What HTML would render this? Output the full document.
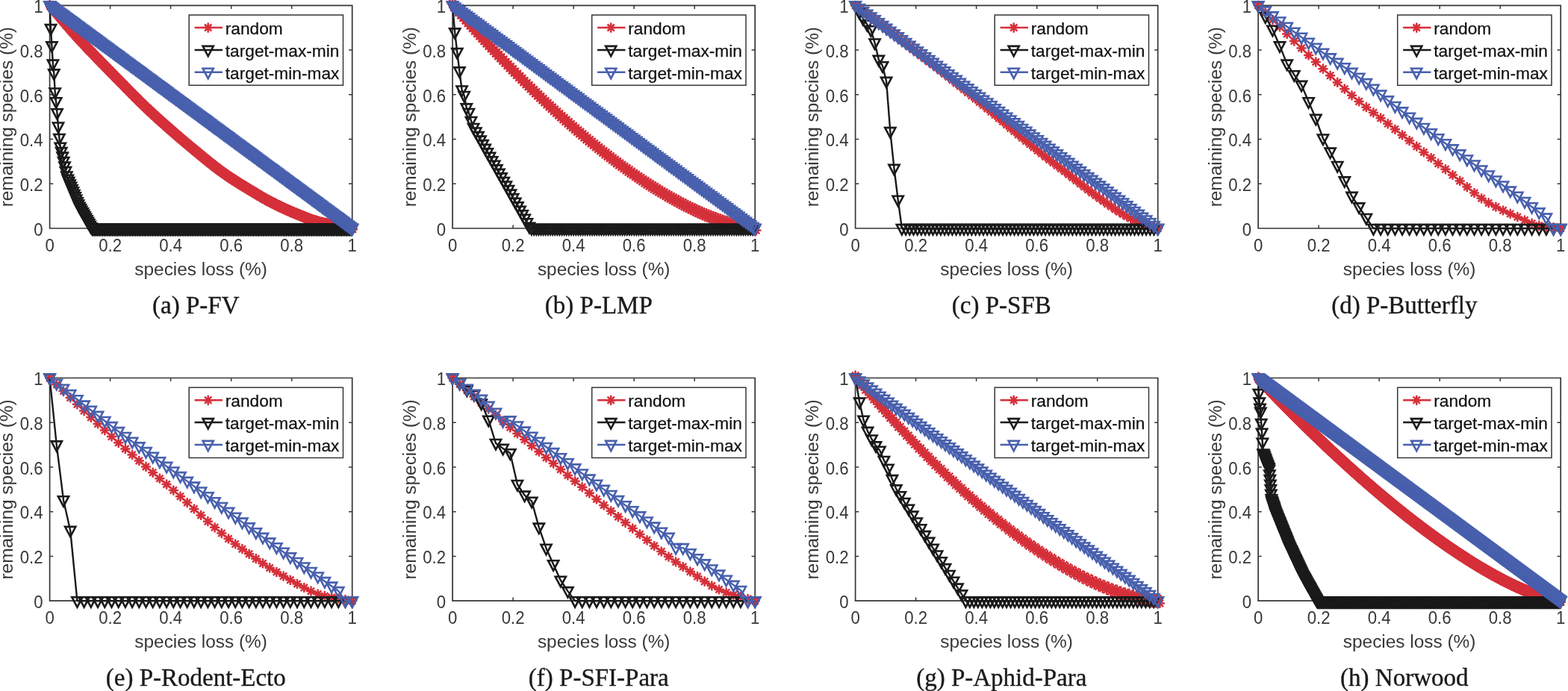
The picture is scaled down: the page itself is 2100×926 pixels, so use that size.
<!DOCTYPE html>
<html><head><meta charset="utf-8"><title>Species loss figures</title>
<style>
html,body{margin:0;padding:0;background:#fff;}
body{width:2100px;height:926px;overflow:hidden;}
svg{display:block;filter:blur(0.45px);}
.tk{font-family:"Liberation Sans",Arial,sans-serif;font-size:22.2px;fill:#383838;}
.lb{font-family:"Liberation Sans",Arial,sans-serif;font-size:24.4px;fill:#383838;}
.lg{font-family:"Liberation Sans",Arial,sans-serif;font-size:22.7px;fill:#111;stroke:#111;stroke-width:0.25px;}
.cp{font-family:"Liberation Serif","Times New Roman",serif;font-size:33px;fill:#1a1a1a;stroke:#1a1a1a;stroke-width:0.35px;}
</style></head><body>
<svg width="2100" height="926" viewBox="0 0 2100 926">
<defs>
<path id="tv" d="M-7.1 -5H7.1L0 8.4Z"/>
<path id="st" d="M0 -6.6V6.6M-6.6 0H6.6M-4.6 -4.6L4.6 4.6M-4.6 4.6L4.6 -4.6"/>
<marker id="mR" markerUnits="userSpaceOnUse" markerWidth="20" markerHeight="20" refX="0" refY="0" viewBox="-10 -10 20 20" overflow="visible"><use href="#st" fill="none" stroke="#d5303a" stroke-width="2.5"/></marker>
<marker id="mK" markerUnits="userSpaceOnUse" markerWidth="24" markerHeight="24" refX="0" refY="0" viewBox="-12 -12 24 24" overflow="visible"><use href="#tv" fill="none" stroke="#1a1a1a" stroke-width="2.6" stroke-linejoin="miter"/></marker>
<marker id="mB" markerUnits="userSpaceOnUse" markerWidth="24" markerHeight="24" refX="0" refY="0" viewBox="-12 -12 24 24" overflow="visible"><use href="#tv" fill="none" stroke="#4860ad" stroke-width="2.6" stroke-linejoin="miter"/></marker>
</defs>
<rect width="2100" height="926" fill="#fff"/>
<g>
<path d="M66.6 7.3H471.7V306H66.6Z" fill="none" stroke="#363636" stroke-width="1.7"/>
<path d="M147.6 306v-4.6M147.6 7.3v4.6M66.6 246.3h4.6M471.7 246.3h-4.6M228.6 306v-4.6M228.6 7.3v4.6M66.6 186.5h4.6M471.7 186.5h-4.6M309.7 306v-4.6M309.7 7.3v4.6M66.6 126.8h4.6M471.7 126.8h-4.6M390.7 306v-4.6M390.7 7.3v4.6M66.6 67h4.6M471.7 67h-4.6" fill="none" stroke="#363636" stroke-width="1.5"/>
<text class="tk" transform="translate(66.6 337) scale(1 1.05)" text-anchor="middle">0</text>
<text class="tk" transform="translate(57.5 315.7) scale(1 1.05)" text-anchor="end">0</text>
<text class="tk" transform="translate(147.6 337) scale(1 1.05)" text-anchor="middle">0.2</text>
<text class="tk" transform="translate(57.5 256) scale(1 1.05)" text-anchor="end">0.2</text>
<text class="tk" transform="translate(228.6 337) scale(1 1.05)" text-anchor="middle">0.4</text>
<text class="tk" transform="translate(57.5 196.2) scale(1 1.05)" text-anchor="end">0.4</text>
<text class="tk" transform="translate(309.7 337) scale(1 1.05)" text-anchor="middle">0.6</text>
<text class="tk" transform="translate(57.5 136.5) scale(1 1.05)" text-anchor="end">0.6</text>
<text class="tk" transform="translate(390.7 337) scale(1 1.05)" text-anchor="middle">0.8</text>
<text class="tk" transform="translate(57.5 76.7) scale(1 1.05)" text-anchor="end">0.8</text>
<text class="tk" transform="translate(471.7 337) scale(1 1.05)" text-anchor="middle">1</text>
<text class="tk" transform="translate(57.5 17) scale(1 1.05)" text-anchor="end">1</text>
<text class="lb" x="269.1" y="368.6" text-anchor="middle">species loss (%)</text>
<text class="lb" transform="translate(17.4 156.7) rotate(-90)" text-anchor="middle">remaining species (%)</text>
<g id="r0"><polyline points="66.6,7.3 68,9 69.4,10.6 70.9,12.3 72.3,14 73.7,15.6 75.1,17.3 76.5,19 78,20.7 79.4,22.4 80.8,24.1 82.2,25.7 83.7,27.4 85.1,29.1 86.5,30.8 87.9,32.4 89.3,34.1 90.8,35.7 92.2,37.4 93.6,39 95,40.6 96.4,42.2 97.9,43.8 99.3,45.4 100.7,47 102.1,48.6 103.6,50.1 105,51.7 106.4,53.2 107.8,54.7 109.2,56.3 110.7,57.8 112.1,59.3 113.5,60.8 114.9,62.4 116.3,63.9 117.8,65.4 119.2,66.9 120.6,68.3 122,69.8 123.5,71.3 124.9,72.8 126.3,74.3 127.7,75.8 129.1,77.2 130.6,78.7 132,80.2 133.4,81.6 134.8,83.1 136.2,84.5 137.7,86 139.1,87.4 140.5,88.9 141.9,90.3 143.4,91.8 144.8,93.2 146.2,94.7 147.6,96.1 149,97.6 150.5,99 151.9,100.5 153.3,101.9 154.7,103.4 156.1,104.8 157.6,106.2 159,107.7 160.4,109.1 161.8,110.6 163.3,112 164.7,113.5 166.1,114.9 167.5,116.4 168.9,117.9 170.4,119.3 171.8,120.8 173.2,122.2 174.6,123.6 176,125.1 177.5,126.5 178.9,128 180.3,129.4 181.7,130.8 183.2,132.2 184.6,133.6 186,135.1 187.4,136.5 188.8,137.8 190.3,139.2 191.7,140.6 193.1,142 194.5,143.3 195.9,144.7 197.4,146 198.8,147.4 200.2,148.7 201.6,150 203.1,151.3 204.5,152.7 205.9,154 207.3,155.3 208.7,156.6 210.2,157.9 211.6,159.2 213,160.4 214.4,161.7 215.8,163 217.3,164.3 218.7,165.5 220.1,166.8 221.5,168.1 223,169.3 224.4,170.6 225.8,171.8 227.2,173.1 228.6,174.3 230.1,175.6 231.5,176.8 232.9,178 234.3,179.3 235.7,180.5 237.2,181.7 238.6,182.9 240,184.2 241.4,185.4 242.9,186.6 244.3,187.8 245.7,189 247.1,190.2 248.5,191.4 250,192.6 251.4,193.8 252.8,195 254.2,196.2 255.6,197.3 257.1,198.5 258.5,199.7 259.9,200.9 261.3,202.1 262.8,203.2 264.2,204.4 265.6,205.6 267,206.8 268.4,208 269.9,209.1 271.3,210.3 272.7,211.5 274.1,212.6 275.5,213.8 277,214.9 278.4,216.1 279.8,217.2 281.2,218.4 282.7,219.5 284.1,220.6 285.5,221.7 286.9,222.9 288.3,224 289.8,225 291.2,226.1 292.6,227.2 294,228.2 295.4,229.3 296.9,230.3 298.3,231.3 299.7,232.3 301.1,233.3 302.6,234.3 304,235.3 305.4,236.2 306.8,237.2 308.2,238.1 309.7,239.1 311.1,240 312.5,240.9 313.9,241.9 315.3,242.8 316.8,243.7 318.2,244.6 319.6,245.5 321,246.4 322.5,247.2 323.9,248.1 325.3,249 326.7,249.9 328.1,250.7 329.6,251.6 331,252.5 332.4,253.3 333.8,254.2 335.2,255 336.7,255.9 338.1,256.7 339.5,257.6 340.9,258.4 342.4,259.3 343.8,260.2 345.2,261 346.6,261.9 348,262.7 349.5,263.5 350.9,264.4 352.3,265.2 353.7,266 355.1,266.8 356.6,267.6 358,268.4 359.4,269.1 360.8,269.9 362.3,270.6 363.7,271.3 365.1,272.1 366.5,272.8 367.9,273.5 369.4,274.2 370.8,274.9 372.2,275.6 373.6,276.3 375,277 376.5,277.7 377.9,278.3 379.3,279 380.7,279.7 382.2,280.3 383.6,280.9 385,281.6 386.4,282.2 387.8,282.8 389.3,283.5 390.7,284.1 392.1,284.7 393.5,285.2 394.9,285.8 396.4,286.4 397.8,287 399.2,287.6 400.6,288.2 402.1,288.7 403.5,289.3 404.9,289.9 406.3,290.5 407.7,291 409.2,291.6 410.6,292.1 412,292.7 413.4,293.2 414.8,293.8 416.3,294.3 417.7,294.8 419.1,295.3 420.5,295.8 422,296.2 423.4,296.7 424.8,297.1 426.2,297.5 427.6,297.9 429.1,298.3 430.5,298.7 431.9,299 433.3,299.3 434.7,299.6 436.2,299.9 437.6,300.2 439,300.5 440.4,300.8 441.9,301.1 443.3,301.3 444.7,301.6 446.1,301.8 447.5,302.1 449,302.3 450.4,302.6 451.8,302.8 453.2,303 454.6,303.2 456.1,303.5 457.5,303.7 458.9,303.9 460.3,304.1 461.8,304.4 463.2,304.6 464.6,304.8 466,305 467.4,305.3 468.9,305.5 470.3,305.8 471.7,306" fill="none" stroke="#d5303a" stroke-width="2.4" stroke-linejoin="round" marker-start="url(#mR)" marker-mid="url(#mR)" marker-end="url(#mR)" transform="translate(0 -1.3)"/></g>
<use href="#r0" transform="translate(0.7 2.6)"/>
<polyline points="66.6,7.3 68,38.1 69.4,61.4 70.9,85.6 72.3,98.4 73.7,123.5 75.1,136.3 76.5,151.3 78,169.5 79.4,185 80.8,196.7 82.2,203.1 83.7,209.6 85.1,216.1 86.5,222.6 87.9,229 89.3,235.5 90.8,239.7 92.2,243.1 93.6,246.5 95,249.9 96.4,253.2 97.9,256.6 99.3,260 100.7,263.4 102.1,266.8 103.6,270.2 105,273.6 106.4,276.7 107.8,279.2 109.2,281.8 110.7,284.3 112.1,286.8 113.5,289.3 114.9,291.8 116.3,294.4 117.8,296.9 119.2,299.4 120.6,301.9 122,304.4 123.5,306 124.9,306 126.3,306 127.7,306 129.1,306 130.6,306 132,306 133.4,306 134.8,306 136.2,306 137.7,306 139.1,306 140.5,306 141.9,306 143.4,306 144.8,306 146.2,306 147.6,306 149,306 150.5,306 151.9,306 153.3,306 154.7,306 156.1,306 157.6,306 159,306 160.4,306 161.8,306 163.3,306 164.7,306 166.1,306 167.5,306 168.9,306 170.4,306 171.8,306 173.2,306 174.6,306 176,306 177.5,306 178.9,306 180.3,306 181.7,306 183.2,306 184.6,306 186,306 187.4,306 188.8,306 190.3,306 191.7,306 193.1,306 194.5,306 195.9,306 197.4,306 198.8,306 200.2,306 201.6,306 203.1,306 204.5,306 205.9,306 207.3,306 208.7,306 210.2,306 211.6,306 213,306 214.4,306 215.8,306 217.3,306 218.7,306 220.1,306 221.5,306 223,306 224.4,306 225.8,306 227.2,306 228.6,306 230.1,306 231.5,306 232.9,306 234.3,306 235.7,306 237.2,306 238.6,306 240,306 241.4,306 242.9,306 244.3,306 245.7,306 247.1,306 248.5,306 250,306 251.4,306 252.8,306 254.2,306 255.6,306 257.1,306 258.5,306 259.9,306 261.3,306 262.8,306 264.2,306 265.6,306 267,306 268.4,306 269.9,306 271.3,306 272.7,306 274.1,306 275.5,306 277,306 278.4,306 279.8,306 281.2,306 282.7,306 284.1,306 285.5,306 286.9,306 288.3,306 289.8,306 291.2,306 292.6,306 294,306 295.4,306 296.9,306 298.3,306 299.7,306 301.1,306 302.6,306 304,306 305.4,306 306.8,306 308.2,306 309.7,306 311.1,306 312.5,306 313.9,306 315.3,306 316.8,306 318.2,306 319.6,306 321,306 322.5,306 323.9,306 325.3,306 326.7,306 328.1,306 329.6,306 331,306 332.4,306 333.8,306 335.2,306 336.7,306 338.1,306 339.5,306 340.9,306 342.4,306 343.8,306 345.2,306 346.6,306 348,306 349.5,306 350.9,306 352.3,306 353.7,306 355.1,306 356.6,306 358,306 359.4,306 360.8,306 362.3,306 363.7,306 365.1,306 366.5,306 367.9,306 369.4,306 370.8,306 372.2,306 373.6,306 375,306 376.5,306 377.9,306 379.3,306 380.7,306 382.2,306 383.6,306 385,306 386.4,306 387.8,306 389.3,306 390.7,306 392.1,306 393.5,306 394.9,306 396.4,306 397.8,306 399.2,306 400.6,306 402.1,306 403.5,306 404.9,306 406.3,306 407.7,306 409.2,306 410.6,306 412,306 413.4,306 414.8,306 416.3,306 417.7,306 419.1,306 420.5,306 422,306 423.4,306 424.8,306 426.2,306 427.6,306 429.1,306 430.5,306 431.9,306 433.3,306 434.7,306 436.2,306 437.6,306 439,306 440.4,306 441.9,306 443.3,306 444.7,306 446.1,306 447.5,306 449,306 450.4,306 451.8,306 453.2,306 454.6,306 456.1,306 457.5,306 458.9,306 460.3,306 461.8,306 463.2,306 464.6,306 466,306 467.4,306 468.9,306 470.3,306 471.7,306" fill="none" stroke="#1a1a1a" stroke-width="2.4" stroke-linejoin="round" marker-start="url(#mK)" marker-mid="url(#mK)" marker-end="url(#mK)"/>
<polyline points="66.6,7.3 68,8.3 69.4,9.4 70.9,10.4 72.3,11.5 73.7,12.5 75.1,13.6 76.5,14.6 78,15.7 79.4,16.7 80.8,17.8 82.2,18.8 83.7,19.9 85.1,20.9 86.5,22 87.9,23 89.3,24.1 90.8,25.1 92.2,26.2 93.6,27.2 95,28.3 96.4,29.3 97.9,30.4 99.3,31.4 100.7,32.5 102.1,33.5 103.6,34.5 105,35.6 106.4,36.6 107.8,37.7 109.2,38.7 110.7,39.8 112.1,40.8 113.5,41.9 114.9,42.9 116.3,44 117.8,45 119.2,46.1 120.6,47.1 122,48.2 123.5,49.2 124.9,50.3 126.3,51.3 127.7,52.4 129.1,53.4 130.6,54.5 132,55.5 133.4,56.6 134.8,57.6 136.2,58.7 137.7,59.7 139.1,60.8 140.5,61.8 141.9,62.8 143.4,63.9 144.8,64.9 146.2,66 147.6,67 149,68.1 150.5,69.1 151.9,70.2 153.3,71.2 154.7,72.3 156.1,73.3 157.6,74.4 159,75.4 160.4,76.5 161.8,77.5 163.3,78.6 164.7,79.6 166.1,80.7 167.5,81.7 168.9,82.8 170.4,83.8 171.8,84.9 173.2,85.9 174.6,87 176,88 177.5,89 178.9,90.1 180.3,91.1 181.7,92.2 183.2,93.2 184.6,94.3 186,95.3 187.4,96.4 188.8,97.4 190.3,98.5 191.7,99.5 193.1,100.6 194.5,101.6 195.9,102.7 197.4,103.7 198.8,104.8 200.2,105.8 201.6,106.9 203.1,107.9 204.5,109 205.9,110 207.3,111.1 208.7,112.1 210.2,113.2 211.6,114.2 213,115.3 214.4,116.3 215.8,117.3 217.3,118.4 218.7,119.4 220.1,120.5 221.5,121.5 223,122.6 224.4,123.6 225.8,124.7 227.2,125.7 228.6,126.8 230.1,127.8 231.5,128.9 232.9,129.9 234.3,131 235.7,132 237.2,133.1 238.6,134.1 240,135.2 241.4,136.2 242.9,137.3 244.3,138.3 245.7,139.4 247.1,140.4 248.5,141.5 250,142.5 251.4,143.5 252.8,144.6 254.2,145.6 255.6,146.7 257.1,147.7 258.5,148.8 259.9,149.8 261.3,150.9 262.8,151.9 264.2,153 265.6,154 267,155.1 268.4,156.1 269.9,157.2 271.3,158.2 272.7,159.3 274.1,160.3 275.5,161.4 277,162.4 278.4,163.5 279.8,164.5 281.2,165.6 282.7,166.6 284.1,167.7 285.5,168.7 286.9,169.8 288.3,170.8 289.8,171.8 291.2,172.9 292.6,173.9 294,175 295.4,176 296.9,177.1 298.3,178.1 299.7,179.2 301.1,180.2 302.6,181.3 304,182.3 305.4,183.4 306.8,184.4 308.2,185.5 309.7,186.5 311.1,187.6 312.5,188.6 313.9,189.7 315.3,190.7 316.8,191.8 318.2,192.8 319.6,193.9 321,194.9 322.5,196 323.9,197 325.3,198 326.7,199.1 328.1,200.1 329.6,201.2 331,202.2 332.4,203.3 333.8,204.3 335.2,205.4 336.7,206.4 338.1,207.5 339.5,208.5 340.9,209.6 342.4,210.6 343.8,211.7 345.2,212.7 346.6,213.8 348,214.8 349.5,215.9 350.9,216.9 352.3,218 353.7,219 355.1,220.1 356.6,221.1 358,222.2 359.4,223.2 360.8,224.3 362.3,225.3 363.7,226.3 365.1,227.4 366.5,228.4 367.9,229.5 369.4,230.5 370.8,231.6 372.2,232.6 373.6,233.7 375,234.7 376.5,235.8 377.9,236.8 379.3,237.9 380.7,238.9 382.2,240 383.6,241 385,242.1 386.4,243.1 387.8,244.2 389.3,245.2 390.7,246.3 392.1,247.3 393.5,248.4 394.9,249.4 396.4,250.5 397.8,251.5 399.2,252.5 400.6,253.6 402.1,254.6 403.5,255.7 404.9,256.7 406.3,257.8 407.7,258.8 409.2,259.9 410.6,260.9 412,262 413.4,263 414.8,264.1 416.3,265.1 417.7,266.2 419.1,267.2 420.5,268.3 422,269.3 423.4,270.4 424.8,271.4 426.2,272.5 427.6,273.5 429.1,274.6 430.5,275.6 431.9,276.7 433.3,277.7 434.7,278.8 436.2,279.8 437.6,280.8 439,281.9 440.4,282.9 441.9,284 443.3,285 444.7,286.1 446.1,287.1 447.5,288.2 449,289.2 450.4,290.3 451.8,291.3 453.2,292.4 454.6,293.4 456.1,294.5 457.5,295.5 458.9,296.6 460.3,297.6 461.8,298.7 463.2,299.7 464.6,300.8 466,301.8 467.4,302.9 468.9,303.9 470.3,305 471.7,306" fill="none" stroke="#4860ad" stroke-width="2.4" stroke-linejoin="round" marker-start="url(#mB)" marker-mid="url(#mB)" marker-end="url(#mB)"/>
<rect x="253.2" y="20.1" width="206.3" height="94.2" fill="#fff" stroke="#363636" stroke-width="1.5"/>
<path d="M260.6 37.1H298" stroke="#d5303a" stroke-width="2.5"/>
<use href="#st" x="278.7" y="37.1" fill="none" stroke="#d5303a" stroke-width="2.5"/>
<text class="lg" x="301.8" y="45.6">random</text>
<path d="M260.6 66.9H298" stroke="#1a1a1a" stroke-width="2.5"/>
<use href="#tv" x="278.7" y="66.9" fill="none" stroke="#1a1a1a" stroke-width="2.6"/>
<text class="lg" x="301.8" y="75.6">target-max-min</text>
<path d="M260.6 96.7H298" stroke="#4860ad" stroke-width="2.5"/>
<use href="#tv" x="278.7" y="96.7" fill="none" stroke="#4860ad" stroke-width="2.6"/>
<text class="lg" x="301.8" y="105.6">target-min-max</text>
<text class="cp" x="262.3" y="419.9" text-anchor="middle">(a) P-FV</text>
</g>
<g>
<path d="M606.1 7.3H1011.2V306H606.1Z" fill="none" stroke="#363636" stroke-width="1.7"/>
<path d="M687.1 306v-4.6M687.1 7.3v4.6M606.1 246.3h4.6M1011.2 246.3h-4.6M768.1 306v-4.6M768.1 7.3v4.6M606.1 186.5h4.6M1011.2 186.5h-4.6M849.2 306v-4.6M849.2 7.3v4.6M606.1 126.8h4.6M1011.2 126.8h-4.6M930.2 306v-4.6M930.2 7.3v4.6M606.1 67h4.6M1011.2 67h-4.6" fill="none" stroke="#363636" stroke-width="1.5"/>
<text class="tk" transform="translate(606.1 337) scale(1 1.05)" text-anchor="middle">0</text>
<text class="tk" transform="translate(597 315.7) scale(1 1.05)" text-anchor="end">0</text>
<text class="tk" transform="translate(687.1 337) scale(1 1.05)" text-anchor="middle">0.2</text>
<text class="tk" transform="translate(597 256) scale(1 1.05)" text-anchor="end">0.2</text>
<text class="tk" transform="translate(768.1 337) scale(1 1.05)" text-anchor="middle">0.4</text>
<text class="tk" transform="translate(597 196.2) scale(1 1.05)" text-anchor="end">0.4</text>
<text class="tk" transform="translate(849.2 337) scale(1 1.05)" text-anchor="middle">0.6</text>
<text class="tk" transform="translate(597 136.5) scale(1 1.05)" text-anchor="end">0.6</text>
<text class="tk" transform="translate(930.2 337) scale(1 1.05)" text-anchor="middle">0.8</text>
<text class="tk" transform="translate(597 76.7) scale(1 1.05)" text-anchor="end">0.8</text>
<text class="tk" transform="translate(1011.2 337) scale(1 1.05)" text-anchor="middle">1</text>
<text class="tk" transform="translate(597 17) scale(1 1.05)" text-anchor="end">1</text>
<text class="lb" x="808.7" y="368.6" text-anchor="middle">species loss (%)</text>
<text class="lb" transform="translate(556.9 156.7) rotate(-90)" text-anchor="middle">remaining species (%)</text>
<g id="r1"><polyline points="606.1,7.3 609.2,10.9 612.3,14.4 615.4,18 618.6,21.5 621.7,25 624.8,28.5 627.9,32 631,35.5 634.1,38.9 637.3,42.4 640.4,45.8 643.5,49.2 646.6,52.6 649.7,55.9 652.8,59.3 656,62.6 659.1,66 662.2,69.3 665.3,72.6 668.4,75.8 671.5,79.1 674.7,82.3 677.8,85.5 680.9,88.7 684,91.9 687.1,95.1 690.2,98.3 693.4,101.4 696.5,104.5 699.6,107.6 702.7,110.7 705.8,113.8 708.9,116.8 712,119.9 715.2,122.9 718.3,125.9 721.4,128.9 724.5,131.8 727.6,134.8 730.7,137.7 733.9,140.6 737,143.5 740.1,146.4 743.2,149.2 746.3,152.1 749.4,154.9 752.6,157.7 755.7,160.4 758.8,163.2 761.9,165.9 765,168.7 768.1,171.4 771.3,174.1 774.4,176.7 777.5,179.4 780.6,182 783.7,184.6 786.8,187.2 790,189.7 793.1,192.3 796.2,194.8 799.3,197.3 802.4,199.8 805.5,202.3 808.7,204.7 811.8,207.1 814.9,209.5 818,211.9 821.1,214.3 824.2,216.6 827.3,218.9 830.5,221.2 833.6,223.5 836.7,225.7 839.8,227.9 842.9,230.1 846,232.3 849.2,234.5 852.3,236.6 855.4,238.7 858.5,240.8 861.6,242.9 864.7,244.9 867.9,246.9 871,248.9 874.1,250.9 877.2,252.8 880.3,254.7 883.4,256.6 886.6,258.5 889.7,260.3 892.8,262.2 895.9,263.9 899,265.7 902.1,267.4 905.3,269.1 908.4,270.8 911.5,272.5 914.6,274.1 917.7,275.7 920.8,277.2 923.9,278.8 927.1,280.3 930.2,281.7 933.3,283.2 936.4,284.6 939.5,286 942.6,287.3 945.8,288.6 948.9,289.9 952,291.1 955.1,292.3 958.2,293.5 961.3,294.6 964.5,295.7 967.6,296.8 970.7,297.8 973.8,298.7 976.9,299.7 980,300.5 983.2,301.4 986.3,302.1 989.4,302.9 992.5,303.5 995.6,304.1 998.7,304.7 1001.9,305.2 1005,305.6 1008.1,305.8 1011.2,306" fill="none" stroke="#d5303a" stroke-width="2.4" stroke-linejoin="round" marker-start="url(#mR)" marker-mid="url(#mR)" marker-end="url(#mR)" transform="translate(0 -2.8)"/></g>
<use href="#r1" transform="translate(1.6 5.6)"/>
<polyline points="606.1,7.3 609.2,43.4 612.3,70 615.4,95.4 618.6,120.5 621.7,128 624.8,144.4 627.9,151 631,162 634.1,171 637.3,176.5 640.4,182.1 643.5,187.6 646.6,193.1 649.7,198.7 652.8,204.2 656,209.7 659.1,215.3 662.2,220.8 665.3,226.4 668.4,231.9 671.5,237.4 674.7,243 677.8,248.5 680.9,254 684,259.6 687.1,265.1 690.2,270.7 693.4,276.2 696.5,281.7 699.6,287.3 702.7,292.8 705.8,298.3 708.9,303.9 712,306 715.2,306 718.3,306 721.4,306 724.5,306 727.6,306 730.7,306 733.9,306 737,306 740.1,306 743.2,306 746.3,306 749.4,306 752.6,306 755.7,306 758.8,306 761.9,306 765,306 768.1,306 771.3,306 774.4,306 777.5,306 780.6,306 783.7,306 786.8,306 790,306 793.1,306 796.2,306 799.3,306 802.4,306 805.5,306 808.7,306 811.8,306 814.9,306 818,306 821.1,306 824.2,306 827.3,306 830.5,306 833.6,306 836.7,306 839.8,306 842.9,306 846,306 849.2,306 852.3,306 855.4,306 858.5,306 861.6,306 864.7,306 867.9,306 871,306 874.1,306 877.2,306 880.3,306 883.4,306 886.6,306 889.7,306 892.8,306 895.9,306 899,306 902.1,306 905.3,306 908.4,306 911.5,306 914.6,306 917.7,306 920.8,306 923.9,306 927.1,306 930.2,306 933.3,306 936.4,306 939.5,306 942.6,306 945.8,306 948.9,306 952,306 955.1,306 958.2,306 961.3,306 964.5,306 967.6,306 970.7,306 973.8,306 976.9,306 980,306 983.2,306 986.3,306 989.4,306 992.5,306 995.6,306 998.7,306 1001.9,306 1005,306 1008.1,306 1011.2,306" fill="none" stroke="#1a1a1a" stroke-width="2.4" stroke-linejoin="round" marker-start="url(#mK)" marker-mid="url(#mK)" marker-end="url(#mK)"/>
<polyline points="606.1,7.3 609.2,9.6 612.3,11.9 615.4,14.2 618.6,16.5 621.7,18.8 624.8,21.1 627.9,23.4 631,25.7 634.1,28 637.3,30.3 640.4,32.6 643.5,34.9 646.6,37.2 649.7,39.5 652.8,41.8 656,44.1 659.1,46.4 662.2,48.7 665.3,51 668.4,53.3 671.5,55.6 674.7,57.8 677.8,60.1 680.9,62.4 684,64.7 687.1,67 690.2,69.3 693.4,71.6 696.5,73.9 699.6,76.2 702.7,78.5 705.8,80.8 708.9,83.1 712,85.4 715.2,87.7 718.3,90 721.4,92.3 724.5,94.6 727.6,96.9 730.7,99.2 733.9,101.5 737,103.8 740.1,106.1 743.2,108.4 746.3,110.7 749.4,113 752.6,115.3 755.7,117.6 758.8,119.9 761.9,122.2 765,124.5 768.1,126.8 771.3,129.1 774.4,131.4 777.5,133.7 780.6,136 783.7,138.3 786.8,140.6 790,142.9 793.1,145.2 796.2,147.5 799.3,149.8 802.4,152.1 805.5,154.4 808.7,156.7 811.8,158.9 814.9,161.2 818,163.5 821.1,165.8 824.2,168.1 827.3,170.4 830.5,172.7 833.6,175 836.7,177.3 839.8,179.6 842.9,181.9 846,184.2 849.2,186.5 852.3,188.8 855.4,191.1 858.5,193.4 861.6,195.7 864.7,198 867.9,200.3 871,202.6 874.1,204.9 877.2,207.2 880.3,209.5 883.4,211.8 886.6,214.1 889.7,216.4 892.8,218.7 895.9,221 899,223.3 902.1,225.6 905.3,227.9 908.4,230.2 911.5,232.5 914.6,234.8 917.7,237.1 920.8,239.4 923.9,241.7 927.1,244 930.2,246.3 933.3,248.6 936.4,250.9 939.5,253.2 942.6,255.5 945.8,257.7 948.9,260 952,262.3 955.1,264.6 958.2,266.9 961.3,269.2 964.5,271.5 967.6,273.8 970.7,276.1 973.8,278.4 976.9,280.7 980,283 983.2,285.3 986.3,287.6 989.4,289.9 992.5,292.2 995.6,294.5 998.7,296.8 1001.9,299.1 1005,301.4 1008.1,303.7 1011.2,306" fill="none" stroke="#4860ad" stroke-width="2.4" stroke-linejoin="round" marker-start="url(#mB)" marker-mid="url(#mB)" marker-end="url(#mB)"/>
<rect x="792.7" y="20.1" width="206.3" height="94.2" fill="#fff" stroke="#363636" stroke-width="1.5"/>
<path d="M800.1 37.1H837.5" stroke="#d5303a" stroke-width="2.5"/>
<use href="#st" x="818.2" y="37.1" fill="none" stroke="#d5303a" stroke-width="2.5"/>
<text class="lg" x="841.3" y="45.6">random</text>
<path d="M800.1 66.9H837.5" stroke="#1a1a1a" stroke-width="2.5"/>
<use href="#tv" x="818.2" y="66.9" fill="none" stroke="#1a1a1a" stroke-width="2.6"/>
<text class="lg" x="841.3" y="75.6">target-max-min</text>
<path d="M800.1 96.7H837.5" stroke="#4860ad" stroke-width="2.5"/>
<use href="#tv" x="818.2" y="96.7" fill="none" stroke="#4860ad" stroke-width="2.6"/>
<text class="lg" x="841.3" y="105.6">target-min-max</text>
<text class="cp" x="801.8" y="419.9" text-anchor="middle">(b) P-LMP</text>
</g>
<g>
<path d="M1145.6 7.3H1550.7V306H1145.6Z" fill="none" stroke="#363636" stroke-width="1.7"/>
<path d="M1226.6 306v-4.6M1226.6 7.3v4.6M1145.6 246.3h4.6M1550.7 246.3h-4.6M1307.6 306v-4.6M1307.6 7.3v4.6M1145.6 186.5h4.6M1550.7 186.5h-4.6M1388.7 306v-4.6M1388.7 7.3v4.6M1145.6 126.8h4.6M1550.7 126.8h-4.6M1469.7 306v-4.6M1469.7 7.3v4.6M1145.6 67h4.6M1550.7 67h-4.6" fill="none" stroke="#363636" stroke-width="1.5"/>
<text class="tk" transform="translate(1145.6 337) scale(1 1.05)" text-anchor="middle">0</text>
<text class="tk" transform="translate(1136.5 315.7) scale(1 1.05)" text-anchor="end">0</text>
<text class="tk" transform="translate(1226.6 337) scale(1 1.05)" text-anchor="middle">0.2</text>
<text class="tk" transform="translate(1136.5 256) scale(1 1.05)" text-anchor="end">0.2</text>
<text class="tk" transform="translate(1307.6 337) scale(1 1.05)" text-anchor="middle">0.4</text>
<text class="tk" transform="translate(1136.5 196.2) scale(1 1.05)" text-anchor="end">0.4</text>
<text class="tk" transform="translate(1388.7 337) scale(1 1.05)" text-anchor="middle">0.6</text>
<text class="tk" transform="translate(1136.5 136.5) scale(1 1.05)" text-anchor="end">0.6</text>
<text class="tk" transform="translate(1469.7 337) scale(1 1.05)" text-anchor="middle">0.8</text>
<text class="tk" transform="translate(1136.5 76.7) scale(1 1.05)" text-anchor="end">0.8</text>
<text class="tk" transform="translate(1550.7 337) scale(1 1.05)" text-anchor="middle">1</text>
<text class="tk" transform="translate(1136.5 17) scale(1 1.05)" text-anchor="end">1</text>
<text class="lb" x="1348.1" y="368.6" text-anchor="middle">species loss (%)</text>
<text class="lb" transform="translate(1096.4 156.7) rotate(-90)" text-anchor="middle">remaining species (%)</text>
<polyline points="1145.6,7.3 1150.8,11.2 1156,15.1 1161.2,19 1166.4,22.9 1171.6,26.8 1176.8,30.7 1182,34.6 1187.1,38.5 1192.3,42.4 1197.5,46.3 1202.7,50.2 1207.9,54.2 1213.1,58.1 1218.3,62.1 1223.5,66.1 1228.7,70.1 1233.9,74.2 1239.1,78.3 1244.3,82.4 1249.5,86.5 1254.7,90.6 1259.9,94.7 1265.1,98.9 1270.2,103 1275.4,107.2 1280.6,111.4 1285.8,115.6 1291,119.8 1296.2,124 1301.4,128.3 1306.6,132.5 1311.8,136.8 1317,141 1322.2,145.4 1327.4,149.7 1332.6,154.1 1337.8,158.5 1343,162.9 1348.1,167.3 1353.3,171.7 1358.5,176 1363.7,180.4 1368.9,184.7 1374.1,189 1379.3,193.3 1384.5,197.5 1389.7,201.7 1394.9,205.8 1400.1,209.9 1405.3,213.9 1410.5,217.9 1415.7,221.8 1420.9,225.8 1426.1,229.8 1431.2,233.8 1436.4,237.9 1441.6,242 1446.8,246.2 1452,250.2 1457.2,254.3 1462.4,258.2 1467.6,262.1 1472.8,265.8 1478,269.5 1483.2,273.2 1488.4,276.8 1493.6,280.4 1498.8,283.7 1504,286.9 1509.2,289.9 1514.3,292.7 1519.5,295.3 1524.7,297.7 1529.9,299.8 1535.1,301.6 1540.3,303.1 1545.5,304.5 1550.7,306" fill="none" stroke="#d5303a" stroke-width="2.4" stroke-linejoin="round" marker-start="url(#mR)" marker-mid="url(#mR)" marker-end="url(#mR)"/>
<polyline points="1145.6,7.3 1150.8,16.3 1156,25.2 1161.2,32.7 1166.4,40.2 1171.6,57.5 1176.8,79.9 1182,88.2 1187.1,108.9 1192.3,176.1 1197.5,225.9 1202.7,267.8 1207.9,306 1213.1,306 1218.3,306 1223.5,306 1228.7,306 1233.9,306 1239.1,306 1244.3,306 1249.5,306 1254.7,306 1259.9,306 1265.1,306 1270.2,306 1275.4,306 1280.6,306 1285.8,306 1291,306 1296.2,306 1301.4,306 1306.6,306 1311.8,306 1317,306 1322.2,306 1327.4,306 1332.6,306 1337.8,306 1343,306 1348.1,306 1353.3,306 1358.5,306 1363.7,306 1368.9,306 1374.1,306 1379.3,306 1384.5,306 1389.7,306 1394.9,306 1400.1,306 1405.3,306 1410.5,306 1415.7,306 1420.9,306 1426.1,306 1431.2,306 1436.4,306 1441.6,306 1446.8,306 1452,306 1457.2,306 1462.4,306 1467.6,306 1472.8,306 1478,306 1483.2,306 1488.4,306 1493.6,306 1498.8,306 1504,306 1509.2,306 1514.3,306 1519.5,306 1524.7,306 1529.9,306 1535.1,306 1540.3,306 1545.5,306 1550.7,306" fill="none" stroke="#1a1a1a" stroke-width="2.4" stroke-linejoin="round" marker-start="url(#mK)" marker-mid="url(#mK)" marker-end="url(#mK)"/>
<polyline points="1145.6,7.3 1150.8,11.1 1156,15 1161.2,18.8 1166.4,22.6 1171.6,26.4 1176.8,30.3 1182,34.1 1187.1,37.9 1192.3,41.8 1197.5,45.6 1202.7,49.4 1207.9,53.3 1213.1,57.1 1218.3,60.9 1223.5,64.7 1228.7,68.6 1233.9,72.4 1239.1,76.2 1244.3,80.1 1249.5,83.9 1254.7,87.7 1259.9,91.5 1265.1,95.4 1270.2,99.2 1275.4,103 1280.6,106.9 1285.8,110.7 1291,114.5 1296.2,118.4 1301.4,122.2 1306.6,126 1311.8,129.8 1317,133.7 1322.2,137.5 1327.4,141.3 1332.6,145.2 1337.8,149 1343,152.8 1348.1,156.7 1353.3,160.5 1358.5,164.3 1363.7,168.1 1368.9,172 1374.1,175.8 1379.3,179.6 1384.5,183.5 1389.7,187.3 1394.9,191.1 1400.1,194.9 1405.3,198.8 1410.5,202.6 1415.7,206.4 1420.9,210.3 1426.1,214.1 1431.2,217.9 1436.4,221.8 1441.6,225.6 1446.8,229.4 1452,233.2 1457.2,237.1 1462.4,240.9 1467.6,244.7 1472.8,248.6 1478,252.4 1483.2,256.2 1488.4,260 1493.6,263.9 1498.8,267.7 1504,271.5 1509.2,275.4 1514.3,279.2 1519.5,283 1524.7,286.9 1529.9,290.7 1535.1,294.5 1540.3,298.3 1545.5,302.2 1550.7,306" fill="none" stroke="#4860ad" stroke-width="2.4" stroke-linejoin="round" marker-start="url(#mB)" marker-mid="url(#mB)" marker-end="url(#mB)"/>
<rect x="1332.2" y="20.1" width="206.3" height="94.2" fill="#fff" stroke="#363636" stroke-width="1.5"/>
<path d="M1339.6 37.1H1377" stroke="#d5303a" stroke-width="2.5"/>
<use href="#st" x="1357.7" y="37.1" fill="none" stroke="#d5303a" stroke-width="2.5"/>
<text class="lg" x="1380.8" y="45.6">random</text>
<path d="M1339.6 66.9H1377" stroke="#1a1a1a" stroke-width="2.5"/>
<use href="#tv" x="1357.7" y="66.9" fill="none" stroke="#1a1a1a" stroke-width="2.6"/>
<text class="lg" x="1380.8" y="75.6">target-max-min</text>
<path d="M1339.6 96.7H1377" stroke="#4860ad" stroke-width="2.5"/>
<use href="#tv" x="1357.7" y="96.7" fill="none" stroke="#4860ad" stroke-width="2.6"/>
<text class="lg" x="1380.8" y="105.6">target-min-max</text>
<text class="cp" x="1341.3" y="419.9" text-anchor="middle">(c) P-SFB</text>
</g>
<g>
<path d="M1685.1 7.3H2090.2V306H1685.1Z" fill="none" stroke="#363636" stroke-width="1.7"/>
<path d="M1766.1 306v-4.6M1766.1 7.3v4.6M1685.1 246.3h4.6M2090.2 246.3h-4.6M1847.1 306v-4.6M1847.1 7.3v4.6M1685.1 186.5h4.6M2090.2 186.5h-4.6M1928.2 306v-4.6M1928.2 7.3v4.6M1685.1 126.8h4.6M2090.2 126.8h-4.6M2009.2 306v-4.6M2009.2 7.3v4.6M1685.1 67h4.6M2090.2 67h-4.6" fill="none" stroke="#363636" stroke-width="1.5"/>
<text class="tk" transform="translate(1685.1 337) scale(1 1.05)" text-anchor="middle">0</text>
<text class="tk" transform="translate(1676 315.7) scale(1 1.05)" text-anchor="end">0</text>
<text class="tk" transform="translate(1766.1 337) scale(1 1.05)" text-anchor="middle">0.2</text>
<text class="tk" transform="translate(1676 256) scale(1 1.05)" text-anchor="end">0.2</text>
<text class="tk" transform="translate(1847.1 337) scale(1 1.05)" text-anchor="middle">0.4</text>
<text class="tk" transform="translate(1676 196.2) scale(1 1.05)" text-anchor="end">0.4</text>
<text class="tk" transform="translate(1928.2 337) scale(1 1.05)" text-anchor="middle">0.6</text>
<text class="tk" transform="translate(1676 136.5) scale(1 1.05)" text-anchor="end">0.6</text>
<text class="tk" transform="translate(2009.2 337) scale(1 1.05)" text-anchor="middle">0.8</text>
<text class="tk" transform="translate(1676 76.7) scale(1 1.05)" text-anchor="end">0.8</text>
<text class="tk" transform="translate(2090.2 337) scale(1 1.05)" text-anchor="middle">1</text>
<text class="tk" transform="translate(1676 17) scale(1 1.05)" text-anchor="end">1</text>
<text class="lb" x="1887.6" y="368.6" text-anchor="middle">species loss (%)</text>
<text class="lb" transform="translate(1635.9 156.7) rotate(-90)" text-anchor="middle">remaining species (%)</text>
<polyline points="1685.1,7.3 1694.7,16.8 1704.4,26.4 1714,36 1723.7,45.5 1733.3,55.1 1743,64.5 1752.6,73.9 1762.3,83.1 1771.9,92.2 1781.6,101.3 1791.2,110.4 1800.8,119.2 1810.5,127.8 1820.1,136 1829.8,143.7 1839.4,150.9 1849.1,158.2 1858.7,165.8 1868.4,173.3 1878,180.9 1887.6,188.6 1897.3,196.2 1906.9,203.9 1916.6,211.5 1926.2,219.2 1935.9,226.8 1945.5,234.5 1955.2,242.4 1964.8,250.6 1974.5,258.6 1984.1,265.8 1993.7,271.9 2003.4,277.2 2013,282 2022.7,286.4 2032.3,290.7 2042,295.1 2051.6,299.4 2061.3,302.3 2070.9,303.8 2080.6,304.9 2090.2,306" fill="none" stroke="#d5303a" stroke-width="2.4" stroke-linejoin="round" marker-start="url(#mR)" marker-mid="url(#mR)" marker-end="url(#mR)"/>
<polyline points="1685.1,7.3 1694.7,22.2 1704.4,39.7 1714,61.4 1723.7,85.6 1733.3,100.2 1743,113.9 1752.6,136.3 1762.3,158.9 1771.9,185.5 1781.6,203.6 1791.2,222 1800.8,242.4 1810.5,262.9 1820.1,277.4 1829.8,292 1839.4,306 1849.1,306 1858.7,306 1868.4,306 1878,306 1887.6,306 1897.3,306 1906.9,306 1916.6,306 1926.2,306 1935.9,306 1945.5,306 1955.2,306 1964.8,306 1974.5,306 1984.1,306 1993.7,306 2003.4,306 2013,306 2022.7,306 2032.3,306 2042,306 2051.6,306 2061.3,306 2070.9,306 2080.6,306 2090.2,306" fill="none" stroke="#1a1a1a" stroke-width="2.4" stroke-linejoin="round" marker-start="url(#mK)" marker-mid="url(#mK)" marker-end="url(#mK)"/>
<polyline points="1685.1,7.3 1694.7,14.4 1704.4,21.4 1714,28.5 1723.7,35.7 1733.3,42.7 1743,49.8 1752.6,56.8 1762.3,63.8 1771.9,70.7 1781.6,77.4 1791.2,83.9 1800.8,90.3 1810.5,96.9 1820.1,103.8 1829.8,111.1 1839.4,118.8 1849.1,126.6 1858.7,134.4 1868.4,142 1878,149.4 1887.6,156.7 1897.3,163.9 1906.9,171 1916.6,178.2 1926.2,185.2 1935.9,192.3 1945.5,199.4 1955.2,206.4 1964.8,213.5 1974.5,220.5 1984.1,227.5 1993.7,234.5 2003.4,241.5 2013,248.5 2022.7,255.6 2032.3,262.8 2042,270 2051.6,277.2 2061.3,284.4 2070.9,291.6 2080.6,306 2090.2,306" fill="none" stroke="#4860ad" stroke-width="2.4" stroke-linejoin="round" marker-start="url(#mB)" marker-mid="url(#mB)" marker-end="url(#mB)"/>
<rect x="1871.7" y="20.1" width="206.3" height="94.2" fill="#fff" stroke="#363636" stroke-width="1.5"/>
<path d="M1879.1 37.1H1916.5" stroke="#d5303a" stroke-width="2.5"/>
<use href="#st" x="1897.2" y="37.1" fill="none" stroke="#d5303a" stroke-width="2.5"/>
<text class="lg" x="1920.3" y="45.6">random</text>
<path d="M1879.1 66.9H1916.5" stroke="#1a1a1a" stroke-width="2.5"/>
<use href="#tv" x="1897.2" y="66.9" fill="none" stroke="#1a1a1a" stroke-width="2.6"/>
<text class="lg" x="1920.3" y="75.6">target-max-min</text>
<path d="M1879.1 96.7H1916.5" stroke="#4860ad" stroke-width="2.5"/>
<use href="#tv" x="1897.2" y="96.7" fill="none" stroke="#4860ad" stroke-width="2.6"/>
<text class="lg" x="1920.3" y="105.6">target-min-max</text>
<text class="cp" x="1880.8" y="419.9" text-anchor="middle">(d) P-Butterfly</text>
</g>
<g>
<path d="M66.6 506.5H471.7V805.2H66.6Z" fill="none" stroke="#363636" stroke-width="1.7"/>
<path d="M147.6 805.2v-4.6M147.6 506.5v4.6M66.6 745.5h4.6M471.7 745.5h-4.6M228.6 805.2v-4.6M228.6 506.5v4.6M66.6 685.7h4.6M471.7 685.7h-4.6M309.7 805.2v-4.6M309.7 506.5v4.6M66.6 626h4.6M471.7 626h-4.6M390.7 805.2v-4.6M390.7 506.5v4.6M66.6 566.2h4.6M471.7 566.2h-4.6" fill="none" stroke="#363636" stroke-width="1.5"/>
<text class="tk" transform="translate(66.6 836.2) scale(1 1.05)" text-anchor="middle">0</text>
<text class="tk" transform="translate(57.5 814.9) scale(1 1.05)" text-anchor="end">0</text>
<text class="tk" transform="translate(147.6 836.2) scale(1 1.05)" text-anchor="middle">0.2</text>
<text class="tk" transform="translate(57.5 755.2) scale(1 1.05)" text-anchor="end">0.2</text>
<text class="tk" transform="translate(228.6 836.2) scale(1 1.05)" text-anchor="middle">0.4</text>
<text class="tk" transform="translate(57.5 695.4) scale(1 1.05)" text-anchor="end">0.4</text>
<text class="tk" transform="translate(309.7 836.2) scale(1 1.05)" text-anchor="middle">0.6</text>
<text class="tk" transform="translate(57.5 635.7) scale(1 1.05)" text-anchor="end">0.6</text>
<text class="tk" transform="translate(390.7 836.2) scale(1 1.05)" text-anchor="middle">0.8</text>
<text class="tk" transform="translate(57.5 575.9) scale(1 1.05)" text-anchor="end">0.8</text>
<text class="tk" transform="translate(471.7 836.2) scale(1 1.05)" text-anchor="middle">1</text>
<text class="tk" transform="translate(57.5 516.2) scale(1 1.05)" text-anchor="end">1</text>
<text class="lb" x="269.1" y="867.8" text-anchor="middle">species loss (%)</text>
<text class="lb" transform="translate(17.4 655.9) rotate(-90)" text-anchor="middle">remaining species (%)</text>
<polyline points="66.6,506.5 75.8,515.3 85,524.1 94.2,532.9 103.4,541.8 112.6,550.6 121.8,559.3 131,568 140.3,576.6 149.5,585 158.7,593.3 167.9,601.4 177.1,609.5 186.3,617.5 195.5,625.4 204.7,633.3 213.9,641.2 223.1,649.1 232.3,657.1 241.5,665.3 250.7,673.6 259.9,682 269.1,690.4 278.4,698.7 287.6,706.8 296.8,714.6 306,722 315.2,729 324.4,735.7 333.6,742.3 342.8,748.7 352,754.9 361.2,760.9 370.4,766.6 379.6,772.1 388.8,777.3 398,782.4 407.3,787.5 416.5,792.2 425.7,796 434.9,798.7 444.1,800.6 453.3,802.2 462.5,803.6 471.7,805.2" fill="none" stroke="#d5303a" stroke-width="2.4" stroke-linejoin="round" marker-start="url(#mR)" marker-mid="url(#mR)" marker-end="url(#mR)"/>
<polyline points="66.6,506.5 75.8,596.4 85,670.2 94.2,710.9 103.4,805.2 112.6,805.2 121.8,805.2 131,805.2 140.3,805.2 149.5,805.2 158.7,805.2 167.9,805.2 177.1,805.2 186.3,805.2 195.5,805.2 204.7,805.2 213.9,805.2 223.1,805.2 232.3,805.2 241.5,805.2 250.7,805.2 259.9,805.2 269.1,805.2 278.4,805.2 287.6,805.2 296.8,805.2 306,805.2 315.2,805.2 324.4,805.2 333.6,805.2 342.8,805.2 352,805.2 361.2,805.2 370.4,805.2 379.6,805.2 388.8,805.2 398,805.2 407.3,805.2 416.5,805.2 425.7,805.2 434.9,805.2 444.1,805.2 453.3,805.2 462.5,805.2 471.7,805.2" fill="none" stroke="#1a1a1a" stroke-width="2.4" stroke-linejoin="round" marker-start="url(#mK)" marker-mid="url(#mK)" marker-end="url(#mK)"/>
<polyline points="66.6,506.5 75.8,513.7 85,520.9 94.2,528.1 103.4,535.3 112.6,542.6 121.8,549.8 131,556.9 140.3,564 149.5,571.1 158.7,578.1 167.9,585 177.1,591.7 186.3,598.4 195.5,605.1 204.7,611.7 213.9,618.3 223.1,624.9 232.3,631.5 241.5,638.1 250.7,644.9 259.9,651.6 269.1,658.5 278.4,665.3 287.6,672.2 296.8,679 306,685.9 315.2,692.8 324.4,699.6 333.6,706.4 342.8,713.2 352,719.9 361.2,726.6 370.4,733.2 379.6,739.8 388.8,746.4 398,753 407.3,759.5 416.5,766 425.7,772.5 434.9,779.1 444.1,785.6 453.3,792.1 462.5,805.2 471.7,805.2" fill="none" stroke="#4860ad" stroke-width="2.4" stroke-linejoin="round" marker-start="url(#mB)" marker-mid="url(#mB)" marker-end="url(#mB)"/>
<rect x="253.2" y="519.3" width="206.3" height="94.2" fill="#fff" stroke="#363636" stroke-width="1.5"/>
<path d="M260.6 536.3H298" stroke="#d5303a" stroke-width="2.5"/>
<use href="#st" x="278.7" y="536.3" fill="none" stroke="#d5303a" stroke-width="2.5"/>
<text class="lg" x="301.8" y="544.8">random</text>
<path d="M260.6 566.1H298" stroke="#1a1a1a" stroke-width="2.5"/>
<use href="#tv" x="278.7" y="566.1" fill="none" stroke="#1a1a1a" stroke-width="2.6"/>
<text class="lg" x="301.8" y="574.8">target-max-min</text>
<path d="M260.6 595.9H298" stroke="#4860ad" stroke-width="2.5"/>
<use href="#tv" x="278.7" y="595.9" fill="none" stroke="#4860ad" stroke-width="2.6"/>
<text class="lg" x="301.8" y="604.8">target-min-max</text>
<text class="cp" x="262.3" y="918.8" text-anchor="middle">(e) P-Rodent-Ecto</text>
</g>
<g>
<path d="M606.1 506.5H1011.2V805.2H606.1Z" fill="none" stroke="#363636" stroke-width="1.7"/>
<path d="M687.1 805.2v-4.6M687.1 506.5v4.6M606.1 745.5h4.6M1011.2 745.5h-4.6M768.1 805.2v-4.6M768.1 506.5v4.6M606.1 685.7h4.6M1011.2 685.7h-4.6M849.2 805.2v-4.6M849.2 506.5v4.6M606.1 626h4.6M1011.2 626h-4.6M930.2 805.2v-4.6M930.2 506.5v4.6M606.1 566.2h4.6M1011.2 566.2h-4.6" fill="none" stroke="#363636" stroke-width="1.5"/>
<text class="tk" transform="translate(606.1 836.2) scale(1 1.05)" text-anchor="middle">0</text>
<text class="tk" transform="translate(597 814.9) scale(1 1.05)" text-anchor="end">0</text>
<text class="tk" transform="translate(687.1 836.2) scale(1 1.05)" text-anchor="middle">0.2</text>
<text class="tk" transform="translate(597 755.2) scale(1 1.05)" text-anchor="end">0.2</text>
<text class="tk" transform="translate(768.1 836.2) scale(1 1.05)" text-anchor="middle">0.4</text>
<text class="tk" transform="translate(597 695.4) scale(1 1.05)" text-anchor="end">0.4</text>
<text class="tk" transform="translate(849.2 836.2) scale(1 1.05)" text-anchor="middle">0.6</text>
<text class="tk" transform="translate(597 635.7) scale(1 1.05)" text-anchor="end">0.6</text>
<text class="tk" transform="translate(930.2 836.2) scale(1 1.05)" text-anchor="middle">0.8</text>
<text class="tk" transform="translate(597 575.9) scale(1 1.05)" text-anchor="end">0.8</text>
<text class="tk" transform="translate(1011.2 836.2) scale(1 1.05)" text-anchor="middle">1</text>
<text class="tk" transform="translate(597 516.2) scale(1 1.05)" text-anchor="end">1</text>
<text class="lb" x="808.7" y="867.8" text-anchor="middle">species loss (%)</text>
<text class="lb" transform="translate(556.9 655.9) rotate(-90)" text-anchor="middle">remaining species (%)</text>
<polyline points="606.1,506.5 615.7,514.8 625.4,523.1 635,531.4 644.7,539.7 654.3,548 664,556.2 673.6,564.5 683.3,572.8 692.9,581 702.6,589.1 712.2,597.2 721.8,605.2 731.5,613.2 741.1,621.1 750.8,629 760.4,636.9 770.1,644.8 779.7,652.8 789.4,660.8 799,668.9 808.7,676.9 818.3,684.8 827.9,692.6 837.6,700.3 847.2,708.1 856.9,715.9 866.5,723.8 876.2,731.5 885.8,739 895.5,746.1 905.1,752.9 914.7,759.5 924.4,766 934,772.6 943.7,779.2 953.3,785 963,790 972.6,794 982.3,797.1 991.9,799.9 1001.6,802.5 1011.2,805.2" fill="none" stroke="#d5303a" stroke-width="2.4" stroke-linejoin="round" marker-start="url(#mR)" marker-mid="url(#mR)" marker-end="url(#mR)"/>
<polyline points="606.1,506.5 615.7,513.7 625.4,522.6 635,528.9 644.7,540.6 654.3,562.7 664,594 673.6,600.9 683.3,607.2 692.9,649 702.6,663.6 712.2,671.7 721.8,706.6 731.5,734.7 741.1,756.2 750.8,777.7 760.4,792.1 770.1,805.2 779.7,805.2 789.4,805.2 799,805.2 808.7,805.2 818.3,805.2 827.9,805.2 837.6,805.2 847.2,805.2 856.9,805.2 866.5,805.2 876.2,805.2 885.8,805.2 895.5,805.2 905.1,805.2 914.7,805.2 924.4,805.2 934,805.2 943.7,805.2 953.3,805.2 963,805.2 972.6,805.2 982.3,805.2 991.9,805.2 1001.6,805.2 1011.2,805.2" fill="none" stroke="#1a1a1a" stroke-width="2.4" stroke-linejoin="round" marker-start="url(#mK)" marker-mid="url(#mK)" marker-end="url(#mK)"/>
<polyline points="606.1,506.5 615.7,513.6 625.4,520.7 635,527.8 644.7,534.9 654.3,543.9 664,552.8 673.6,564 683.3,563.4 692.9,570.5 702.6,577.6 712.2,584.7 721.8,591.8 731.5,599 741.1,606.1 750.8,613.2 760.4,620.3 770.1,627.4 779.7,634.5 789.4,641.6 799,648.7 808.7,655.9 818.3,663 827.9,670.1 837.6,677.2 847.2,684.3 856.9,691.4 866.5,698.5 876.2,705.6 885.8,712.7 895.5,719.9 905.1,734.1 914.7,734.1 924.4,741.2 934,748.3 943.7,755.4 953.3,762.5 963,769.6 972.6,776.8 982.3,783.9 991.9,791 1001.6,805.2 1011.2,805.2" fill="none" stroke="#4860ad" stroke-width="2.4" stroke-linejoin="round" marker-start="url(#mB)" marker-mid="url(#mB)" marker-end="url(#mB)"/>
<rect x="792.7" y="519.3" width="206.3" height="94.2" fill="#fff" stroke="#363636" stroke-width="1.5"/>
<path d="M800.1 536.3H837.5" stroke="#d5303a" stroke-width="2.5"/>
<use href="#st" x="818.2" y="536.3" fill="none" stroke="#d5303a" stroke-width="2.5"/>
<text class="lg" x="841.3" y="544.8">random</text>
<path d="M800.1 566.1H837.5" stroke="#1a1a1a" stroke-width="2.5"/>
<use href="#tv" x="818.2" y="566.1" fill="none" stroke="#1a1a1a" stroke-width="2.6"/>
<text class="lg" x="841.3" y="574.8">target-max-min</text>
<path d="M800.1 595.9H837.5" stroke="#4860ad" stroke-width="2.5"/>
<use href="#tv" x="818.2" y="595.9" fill="none" stroke="#4860ad" stroke-width="2.6"/>
<text class="lg" x="841.3" y="604.8">target-min-max</text>
<text class="cp" x="801.8" y="918.8" text-anchor="middle">(f) P-SFI-Para</text>
</g>
<g>
<path d="M1145.6 506.5H1550.7V805.2H1145.6Z" fill="none" stroke="#363636" stroke-width="1.7"/>
<path d="M1226.6 805.2v-4.6M1226.6 506.5v4.6M1145.6 745.5h4.6M1550.7 745.5h-4.6M1307.6 805.2v-4.6M1307.6 506.5v4.6M1145.6 685.7h4.6M1550.7 685.7h-4.6M1388.7 805.2v-4.6M1388.7 506.5v4.6M1145.6 626h4.6M1550.7 626h-4.6M1469.7 805.2v-4.6M1469.7 506.5v4.6M1145.6 566.2h4.6M1550.7 566.2h-4.6" fill="none" stroke="#363636" stroke-width="1.5"/>
<text class="tk" transform="translate(1145.6 836.2) scale(1 1.05)" text-anchor="middle">0</text>
<text class="tk" transform="translate(1136.5 814.9) scale(1 1.05)" text-anchor="end">0</text>
<text class="tk" transform="translate(1226.6 836.2) scale(1 1.05)" text-anchor="middle">0.2</text>
<text class="tk" transform="translate(1136.5 755.2) scale(1 1.05)" text-anchor="end">0.2</text>
<text class="tk" transform="translate(1307.6 836.2) scale(1 1.05)" text-anchor="middle">0.4</text>
<text class="tk" transform="translate(1136.5 695.4) scale(1 1.05)" text-anchor="end">0.4</text>
<text class="tk" transform="translate(1388.7 836.2) scale(1 1.05)" text-anchor="middle">0.6</text>
<text class="tk" transform="translate(1136.5 635.7) scale(1 1.05)" text-anchor="end">0.6</text>
<text class="tk" transform="translate(1469.7 836.2) scale(1 1.05)" text-anchor="middle">0.8</text>
<text class="tk" transform="translate(1136.5 575.9) scale(1 1.05)" text-anchor="end">0.8</text>
<text class="tk" transform="translate(1550.7 836.2) scale(1 1.05)" text-anchor="middle">1</text>
<text class="tk" transform="translate(1136.5 516.2) scale(1 1.05)" text-anchor="end">1</text>
<text class="lb" x="1348.1" y="867.8" text-anchor="middle">species loss (%)</text>
<text class="lb" transform="translate(1096.4 655.9) rotate(-90)" text-anchor="middle">remaining species (%)</text>
<g id="r6"><polyline points="1145.6,506.5 1151.1,513 1156.5,519.5 1162,525.9 1167.5,532.2 1173,538.5 1178.4,544.7 1183.9,550.9 1189.4,557 1194.9,563.1 1200.3,569.1 1205.8,575 1211.3,580.9 1216.8,586.8 1222.2,592.5 1227.7,598.3 1233.2,603.9 1238.7,609.5 1244.1,615 1249.6,620.5 1255.1,625.9 1260.6,631.3 1266,636.5 1271.5,641.8 1277,646.9 1282.5,652 1287.9,657.1 1293.4,662 1298.9,666.9 1304.4,671.8 1309.8,676.5 1315.3,681.2 1320.8,685.9 1326.3,690.4 1331.7,694.9 1337.2,699.4 1342.7,703.7 1348.1,708 1353.6,712.2 1359.1,716.4 1364.6,720.5 1370,724.5 1375.5,728.4 1381,732.2 1386.5,736 1391.9,739.7 1397.4,743.3 1402.9,746.9 1408.4,750.3 1413.8,753.7 1419.3,757 1424.8,760.2 1430.3,763.3 1435.7,766.4 1441.2,769.3 1446.7,772.2 1452.2,775 1457.6,777.6 1463.1,780.2 1468.6,782.7 1474.1,785.1 1479.5,787.3 1485,789.5 1490.5,791.6 1496,793.5 1501.4,795.4 1506.9,797.1 1512.4,798.7 1517.9,800.1 1523.3,801.4 1528.8,802.6 1534.3,803.5 1539.8,804.3 1545.2,804.9 1550.7,805.2" fill="none" stroke="#d5303a" stroke-width="2.4" stroke-linejoin="round" marker-start="url(#mR)" marker-mid="url(#mR)" marker-end="url(#mR)" transform="translate(0 -3.3)"/></g>
<use href="#r6" transform="translate(2.7 6.6)"/>
<polyline points="1145.6,506.5 1151.1,538.6 1156.5,562.7 1162,577.9 1167.5,588.5 1173,597.4 1178.4,603.7 1183.9,617 1189.4,627.8 1194.9,642.1 1200.3,655.4 1205.8,664.2 1211.3,673 1216.8,681.8 1222.2,690.6 1227.7,699.5 1233.2,708.3 1238.7,717.1 1244.1,725.9 1249.6,734.7 1255.1,743.5 1260.6,752.3 1266,761.1 1271.5,770 1277,778.8 1282.5,787.6 1287.9,796.4 1293.4,805.2 1298.9,805.2 1304.4,805.2 1309.8,805.2 1315.3,805.2 1320.8,805.2 1326.3,805.2 1331.7,805.2 1337.2,805.2 1342.7,805.2 1348.1,805.2 1353.6,805.2 1359.1,805.2 1364.6,805.2 1370,805.2 1375.5,805.2 1381,805.2 1386.5,805.2 1391.9,805.2 1397.4,805.2 1402.9,805.2 1408.4,805.2 1413.8,805.2 1419.3,805.2 1424.8,805.2 1430.3,805.2 1435.7,805.2 1441.2,805.2 1446.7,805.2 1452.2,805.2 1457.6,805.2 1463.1,805.2 1468.6,805.2 1474.1,805.2 1479.5,805.2 1485,805.2 1490.5,805.2 1496,805.2 1501.4,805.2 1506.9,805.2 1512.4,805.2 1517.9,805.2 1523.3,805.2 1528.8,805.2 1534.3,805.2 1539.8,805.2 1545.2,805.2 1550.7,805.2" fill="none" stroke="#1a1a1a" stroke-width="2.4" stroke-linejoin="round" marker-start="url(#mK)" marker-mid="url(#mK)" marker-end="url(#mK)"/>
<polyline points="1145.6,506.5 1151.1,510.5 1156.5,514.6 1162,518.6 1167.5,522.6 1173,526.7 1178.4,530.7 1183.9,534.8 1189.4,538.8 1194.9,542.8 1200.3,546.9 1205.8,550.9 1211.3,554.9 1216.8,559 1222.2,563 1227.7,567 1233.2,571.1 1238.7,575.1 1244.1,579.2 1249.6,583.2 1255.1,587.2 1260.6,591.3 1266,595.3 1271.5,599.3 1277,603.4 1282.5,607.4 1287.9,611.4 1293.4,615.5 1298.9,619.5 1304.4,623.6 1309.8,627.6 1315.3,631.6 1320.8,635.7 1326.3,639.7 1331.7,643.7 1337.2,647.8 1342.7,651.8 1348.1,655.9 1353.6,659.9 1359.1,663.9 1364.6,668 1370,672 1375.5,676 1381,680.1 1386.5,684.1 1391.9,688.1 1397.4,692.2 1402.9,696.2 1408.4,700.3 1413.8,704.3 1419.3,708.3 1424.8,712.4 1430.3,716.4 1435.7,720.4 1441.2,724.5 1446.7,728.5 1452.2,732.5 1457.6,736.6 1463.1,740.6 1468.6,744.7 1474.1,748.7 1479.5,752.7 1485,756.8 1490.5,760.8 1496,764.8 1501.4,768.9 1506.9,772.9 1512.4,776.9 1517.9,781 1523.3,785 1528.8,789.1 1534.3,793.1 1539.8,797.1 1545.2,801.2 1550.7,805.2" fill="none" stroke="#4860ad" stroke-width="2.4" stroke-linejoin="round" marker-start="url(#mB)" marker-mid="url(#mB)" marker-end="url(#mB)"/>
<rect x="1332.2" y="519.3" width="206.3" height="94.2" fill="#fff" stroke="#363636" stroke-width="1.5"/>
<path d="M1339.6 536.3H1377" stroke="#d5303a" stroke-width="2.5"/>
<use href="#st" x="1357.7" y="536.3" fill="none" stroke="#d5303a" stroke-width="2.5"/>
<text class="lg" x="1380.8" y="544.8">random</text>
<path d="M1339.6 566.1H1377" stroke="#1a1a1a" stroke-width="2.5"/>
<use href="#tv" x="1357.7" y="566.1" fill="none" stroke="#1a1a1a" stroke-width="2.6"/>
<text class="lg" x="1380.8" y="574.8">target-max-min</text>
<path d="M1339.6 595.9H1377" stroke="#4860ad" stroke-width="2.5"/>
<use href="#tv" x="1357.7" y="595.9" fill="none" stroke="#4860ad" stroke-width="2.6"/>
<text class="lg" x="1380.8" y="604.8">target-min-max</text>
<text class="cp" x="1341.3" y="918.8" text-anchor="middle">(g) P-Aphid-Para</text>
</g>
<g>
<path d="M1685.1 506.5H2090.2V805.2H1685.1Z" fill="none" stroke="#363636" stroke-width="1.7"/>
<path d="M1766.1 805.2v-4.6M1766.1 506.5v4.6M1685.1 745.5h4.6M2090.2 745.5h-4.6M1847.1 805.2v-4.6M1847.1 506.5v4.6M1685.1 685.7h4.6M2090.2 685.7h-4.6M1928.2 805.2v-4.6M1928.2 506.5v4.6M1685.1 626h4.6M2090.2 626h-4.6M2009.2 805.2v-4.6M2009.2 506.5v4.6M1685.1 566.2h4.6M2090.2 566.2h-4.6" fill="none" stroke="#363636" stroke-width="1.5"/>
<text class="tk" transform="translate(1685.1 836.2) scale(1 1.05)" text-anchor="middle">0</text>
<text class="tk" transform="translate(1676 814.9) scale(1 1.05)" text-anchor="end">0</text>
<text class="tk" transform="translate(1766.1 836.2) scale(1 1.05)" text-anchor="middle">0.2</text>
<text class="tk" transform="translate(1676 755.2) scale(1 1.05)" text-anchor="end">0.2</text>
<text class="tk" transform="translate(1847.1 836.2) scale(1 1.05)" text-anchor="middle">0.4</text>
<text class="tk" transform="translate(1676 695.4) scale(1 1.05)" text-anchor="end">0.4</text>
<text class="tk" transform="translate(1928.2 836.2) scale(1 1.05)" text-anchor="middle">0.6</text>
<text class="tk" transform="translate(1676 635.7) scale(1 1.05)" text-anchor="end">0.6</text>
<text class="tk" transform="translate(2009.2 836.2) scale(1 1.05)" text-anchor="middle">0.8</text>
<text class="tk" transform="translate(1676 575.9) scale(1 1.05)" text-anchor="end">0.8</text>
<text class="tk" transform="translate(2090.2 836.2) scale(1 1.05)" text-anchor="middle">1</text>
<text class="tk" transform="translate(1676 516.2) scale(1 1.05)" text-anchor="end">1</text>
<text class="lb" x="1887.6" y="867.8" text-anchor="middle">species loss (%)</text>
<text class="lb" transform="translate(1635.9 655.9) rotate(-90)" text-anchor="middle">remaining species (%)</text>
<g id="r7"><polyline points="1685.1,506.5 1685.6,507 1686.1,507.6 1686.6,508.1 1687.1,508.6 1687.6,509.2 1688.1,509.7 1688.6,510.2 1689.2,510.8 1689.7,511.3 1690.2,511.8 1690.7,512.4 1691.2,512.9 1691.7,513.4 1692.2,513.9 1692.7,514.5 1693.2,515 1693.7,515.5 1694.2,516.1 1694.7,516.6 1695.2,517.1 1695.7,517.6 1696.2,518.2 1696.7,518.7 1697.3,519.2 1697.8,519.8 1698.3,520.3 1698.8,520.8 1699.3,521.3 1699.8,521.9 1700.3,522.4 1700.8,522.9 1701.3,523.4 1701.8,524 1702.3,524.5 1702.8,525 1703.3,525.5 1703.8,526.1 1704.3,526.6 1704.8,527.1 1705.4,527.6 1705.9,528.1 1706.4,528.7 1706.9,529.2 1707.4,529.7 1707.9,530.2 1708.4,530.8 1708.9,531.3 1709.4,531.8 1709.9,532.3 1710.4,532.8 1710.9,533.4 1711.4,533.9 1711.9,534.4 1712.4,534.9 1713,535.4 1713.5,535.9 1714,536.5 1714.5,537 1715,537.5 1715.5,538 1716,538.5 1716.5,539 1717,539.6 1717.5,540.1 1718,540.6 1718.5,541.1 1719,541.6 1719.5,542.1 1720,542.6 1720.5,543.2 1721.1,543.7 1721.6,544.2 1722.1,544.7 1722.6,545.2 1723.1,545.7 1723.6,546.2 1724.1,546.7 1724.6,547.3 1725.1,547.8 1725.6,548.3 1726.1,548.8 1726.6,549.3 1727.1,549.8 1727.6,550.3 1728.1,550.8 1728.6,551.3 1729.2,551.8 1729.7,552.4 1730.2,552.9 1730.7,553.4 1731.2,553.9 1731.7,554.4 1732.2,554.9 1732.7,555.4 1733.2,555.9 1733.7,556.4 1734.2,556.9 1734.7,557.4 1735.2,557.9 1735.7,558.4 1736.2,558.9 1736.8,559.4 1737.3,559.9 1737.8,560.4 1738.3,560.9 1738.8,561.4 1739.3,561.9 1739.8,562.4 1740.3,562.9 1740.8,563.4 1741.3,563.9 1741.8,564.4 1742.3,564.9 1742.8,565.4 1743.3,565.9 1743.8,566.4 1744.3,566.9 1744.9,567.4 1745.4,567.9 1745.9,568.4 1746.4,568.9 1746.9,569.4 1747.4,569.9 1747.9,570.4 1748.4,570.9 1748.9,571.4 1749.4,571.9 1749.9,572.4 1750.4,572.9 1750.9,573.4 1751.4,573.9 1751.9,574.4 1752.4,574.9 1753,575.4 1753.5,575.9 1754,576.4 1754.5,576.9 1755,577.4 1755.5,577.8 1756,578.3 1756.5,578.8 1757,579.3 1757.5,579.8 1758,580.3 1758.5,580.8 1759,581.3 1759.5,581.8 1760,582.3 1760.5,582.7 1761.1,583.2 1761.6,583.7 1762.1,584.2 1762.6,584.7 1763.1,585.2 1763.6,585.7 1764.1,586.2 1764.6,586.6 1765.1,587.1 1765.6,587.6 1766.1,588.1 1766.6,588.6 1767.1,589.1 1767.6,589.6 1768.1,590 1768.7,590.5 1769.2,591 1769.7,591.5 1770.2,592 1770.7,592.5 1771.2,592.9 1771.7,593.4 1772.2,593.9 1772.7,594.4 1773.2,594.9 1773.7,595.3 1774.2,595.8 1774.7,596.3 1775.2,596.8 1775.7,597.3 1776.2,597.7 1776.8,598.2 1777.3,598.7 1777.8,599.2 1778.3,599.7 1778.8,600.1 1779.3,600.6 1779.8,601.1 1780.3,601.6 1780.8,602 1781.3,602.5 1781.8,603 1782.3,603.5 1782.8,603.9 1783.3,604.4 1783.8,604.9 1784.3,605.4 1784.9,605.8 1785.4,606.3 1785.9,606.8 1786.4,607.2 1786.9,607.7 1787.4,608.2 1787.9,608.7 1788.4,609.1 1788.9,609.6 1789.4,610.1 1789.9,610.5 1790.4,611 1790.9,611.5 1791.4,611.9 1791.9,612.4 1792.5,612.9 1793,613.3 1793.5,613.8 1794,614.3 1794.5,614.7 1795,615.2 1795.5,615.7 1796,616.1 1796.5,616.6 1797,617.1 1797.5,617.5 1798,618 1798.5,618.5 1799,618.9 1799.5,619.4 1800,619.9 1800.6,620.3 1801.1,620.8 1801.6,621.2 1802.1,621.7 1802.6,622.2 1803.1,622.6 1803.6,623.1 1804.1,623.5 1804.6,624 1805.1,624.5 1805.6,624.9 1806.1,625.4 1806.6,625.8 1807.1,626.3 1807.6,626.8 1808.1,627.2 1808.7,627.7 1809.2,628.1 1809.7,628.6 1810.2,629 1810.7,629.5 1811.2,629.9 1811.7,630.4 1812.2,630.9 1812.7,631.3 1813.2,631.8 1813.7,632.2 1814.2,632.7 1814.7,633.1 1815.2,633.6 1815.7,634 1816.3,634.5 1816.8,634.9 1817.3,635.4 1817.8,635.8 1818.3,636.3 1818.8,636.7 1819.3,637.2 1819.8,637.6 1820.3,638.1 1820.8,638.5 1821.3,639 1821.8,639.4 1822.3,639.9 1822.8,640.3 1823.3,640.8 1823.8,641.2 1824.4,641.7 1824.9,642.1 1825.4,642.5 1825.9,643 1826.4,643.4 1826.9,643.9 1827.4,644.3 1827.9,644.8 1828.4,645.2 1828.9,645.6 1829.4,646.1 1829.9,646.5 1830.4,647 1830.9,647.4 1831.4,647.9 1831.9,648.3 1832.5,648.7 1833,649.2 1833.5,649.6 1834,650 1834.5,650.5 1835,650.9 1835.5,651.4 1836,651.8 1836.5,652.2 1837,652.7 1837.5,653.1 1838,653.5 1838.5,654 1839,654.4 1839.5,654.9 1840.1,655.3 1840.6,655.7 1841.1,656.2 1841.6,656.6 1842.1,657 1842.6,657.4 1843.1,657.9 1843.6,658.3 1844.1,658.7 1844.6,659.2 1845.1,659.6 1845.6,660 1846.1,660.5 1846.6,660.9 1847.1,661.3 1847.6,661.8 1848.2,662.2 1848.7,662.6 1849.2,663 1849.7,663.5 1850.2,663.9 1850.7,664.3 1851.2,664.7 1851.7,665.2 1852.2,665.6 1852.7,666 1853.2,666.4 1853.7,666.9 1854.2,667.3 1854.7,667.7 1855.2,668.1 1855.7,668.6 1856.3,669 1856.8,669.4 1857.3,669.8 1857.8,670.2 1858.3,670.7 1858.8,671.1 1859.3,671.5 1859.8,671.9 1860.3,672.3 1860.8,672.8 1861.3,673.2 1861.8,673.6 1862.3,674 1862.8,674.4 1863.3,674.8 1863.9,675.3 1864.4,675.7 1864.9,676.1 1865.4,676.5 1865.9,676.9 1866.4,677.3 1866.9,677.7 1867.4,678.2 1867.9,678.6 1868.4,679 1868.9,679.4 1869.4,679.8 1869.9,680.2 1870.4,680.6 1870.9,681 1871.4,681.4 1872,681.9 1872.5,682.3 1873,682.7 1873.5,683.1 1874,683.5 1874.5,683.9 1875,684.3 1875.5,684.7 1876,685.1 1876.5,685.5 1877,685.9 1877.5,686.3 1878,686.7 1878.5,687.1 1879,687.5 1879.5,687.9 1880.1,688.4 1880.6,688.8 1881.1,689.2 1881.6,689.6 1882.1,690 1882.6,690.4 1883.1,690.8 1883.6,691.2 1884.1,691.6 1884.6,692 1885.1,692.4 1885.6,692.8 1886.1,693.2 1886.6,693.5 1887.1,693.9 1887.6,694.3 1888.2,694.7 1888.7,695.1 1889.2,695.5 1889.7,695.9 1890.2,696.3 1890.7,696.7 1891.2,697.1 1891.7,697.5 1892.2,697.9 1892.7,698.3 1893.2,698.7 1893.7,699.1 1894.2,699.5 1894.7,699.8 1895.2,700.2 1895.8,700.6 1896.3,701 1896.8,701.4 1897.3,701.8 1897.8,702.2 1898.3,702.6 1898.8,703 1899.3,703.3 1899.8,703.7 1900.3,704.1 1900.8,704.5 1901.3,704.9 1901.8,705.3 1902.3,705.7 1902.8,706 1903.3,706.4 1903.9,706.8 1904.4,707.2 1904.9,707.6 1905.4,707.9 1905.9,708.3 1906.4,708.7 1906.9,709.1 1907.4,709.5 1907.9,709.8 1908.4,710.2 1908.9,710.6 1909.4,711 1909.9,711.4 1910.4,711.7 1910.9,712.1 1911.4,712.5 1912,712.9 1912.5,713.2 1913,713.6 1913.5,714 1914,714.4 1914.5,714.7 1915,715.1 1915.5,715.5 1916,715.8 1916.5,716.2 1917,716.6 1917.5,717 1918,717.3 1918.5,717.7 1919,718.1 1919.6,718.4 1920.1,718.8 1920.6,719.2 1921.1,719.5 1921.6,719.9 1922.1,720.3 1922.6,720.6 1923.1,721 1923.6,721.4 1924.1,721.7 1924.6,722.1 1925.1,722.5 1925.6,722.8 1926.1,723.2 1926.6,723.5 1927.1,723.9 1927.7,724.3 1928.2,724.6 1928.7,725 1929.2,725.3 1929.7,725.7 1930.2,726.1 1930.7,726.4 1931.2,726.8 1931.7,727.1 1932.2,727.5 1932.7,727.8 1933.2,728.2 1933.7,728.6 1934.2,728.9 1934.7,729.3 1935.2,729.6 1935.8,730 1936.3,730.3 1936.8,730.7 1937.3,731 1937.8,731.4 1938.3,731.7 1938.8,732.1 1939.3,732.4 1939.8,732.8 1940.3,733.1 1940.8,733.5 1941.3,733.8 1941.8,734.2 1942.3,734.5 1942.8,734.9 1943.4,735.2 1943.9,735.6 1944.4,735.9 1944.9,736.2 1945.4,736.6 1945.9,736.9 1946.4,737.3 1946.9,737.6 1947.4,738 1947.9,738.3 1948.4,738.6 1948.9,739 1949.4,739.3 1949.9,739.7 1950.4,740 1950.9,740.3 1951.5,740.7 1952,741 1952.5,741.3 1953,741.7 1953.5,742 1954,742.3 1954.5,742.7 1955,743 1955.5,743.3 1956,743.7 1956.5,744 1957,744.3 1957.5,744.7 1958,745 1958.5,745.3 1959,745.7 1959.6,746 1960.1,746.3 1960.6,746.6 1961.1,747 1961.6,747.3 1962.1,747.6 1962.6,747.9 1963.1,748.3 1963.6,748.6 1964.1,748.9 1964.6,749.2 1965.1,749.6 1965.6,749.9 1966.1,750.2 1966.6,750.5 1967.2,750.8 1967.7,751.2 1968.2,751.5 1968.7,751.8 1969.2,752.1 1969.7,752.4 1970.2,752.8 1970.7,753.1 1971.2,753.4 1971.7,753.7 1972.2,754 1972.7,754.3 1973.2,754.6 1973.7,755 1974.2,755.3 1974.7,755.6 1975.3,755.9 1975.8,756.2 1976.3,756.5 1976.8,756.8 1977.3,757.1 1977.8,757.4 1978.3,757.7 1978.8,758.1 1979.3,758.4 1979.8,758.7 1980.3,759 1980.8,759.3 1981.3,759.6 1981.8,759.9 1982.3,760.2 1982.8,760.5 1983.4,760.8 1983.9,761.1 1984.4,761.4 1984.9,761.7 1985.4,762 1985.9,762.3 1986.4,762.6 1986.9,762.9 1987.4,763.2 1987.9,763.5 1988.4,763.8 1988.9,764.1 1989.4,764.4 1989.9,764.6 1990.4,764.9 1991,765.2 1991.5,765.5 1992,765.8 1992.5,766.1 1993,766.4 1993.5,766.7 1994,767 1994.5,767.3 1995,767.5 1995.5,767.8 1996,768.1 1996.5,768.4 1997,768.7 1997.5,769 1998,769.2 1998.5,769.5 1999.1,769.8 1999.6,770.1 2000.1,770.4 2000.6,770.7 2001.1,770.9 2001.6,771.2 2002.1,771.5 2002.6,771.8 2003.1,772 2003.6,772.3 2004.1,772.6 2004.6,772.9 2005.1,773.1 2005.6,773.4 2006.1,773.7 2006.6,774 2007.2,774.2 2007.7,774.5 2008.2,774.8 2008.7,775 2009.2,775.3 2009.7,775.6 2010.2,775.8 2010.7,776.1 2011.2,776.4 2011.7,776.6 2012.2,776.9 2012.7,777.2 2013.2,777.4 2013.7,777.7 2014.2,777.9 2014.8,778.2 2015.3,778.5 2015.8,778.7 2016.3,779 2016.8,779.2 2017.3,779.5 2017.8,779.7 2018.3,780 2018.8,780.2 2019.3,780.5 2019.8,780.7 2020.3,781 2020.8,781.2 2021.3,781.5 2021.8,781.7 2022.3,782 2022.9,782.2 2023.4,782.5 2023.9,782.7 2024.4,783 2024.9,783.2 2025.4,783.5 2025.9,783.7 2026.4,784 2026.9,784.2 2027.4,784.4 2027.9,784.7 2028.4,784.9 2028.9,785.1 2029.4,785.4 2029.9,785.6 2030.4,785.9 2031,786.1 2031.5,786.3 2032,786.6 2032.5,786.8 2033,787 2033.5,787.2 2034,787.5 2034.5,787.7 2035,787.9 2035.5,788.2 2036,788.4 2036.5,788.6 2037,788.8 2037.5,789 2038,789.3 2038.5,789.5 2039.1,789.7 2039.6,789.9 2040.1,790.1 2040.6,790.4 2041.1,790.6 2041.6,790.8 2042.1,791 2042.6,791.2 2043.1,791.4 2043.6,791.6 2044.1,791.9 2044.6,792.1 2045.1,792.3 2045.6,792.5 2046.1,792.7 2046.7,792.9 2047.2,793.1 2047.7,793.3 2048.2,793.5 2048.7,793.7 2049.2,793.9 2049.7,794.1 2050.2,794.3 2050.7,794.5 2051.2,794.7 2051.7,794.9 2052.2,795.1 2052.7,795.3 2053.2,795.5 2053.7,795.7 2054.2,795.8 2054.8,796 2055.3,796.2 2055.8,796.4 2056.3,796.6 2056.8,796.8 2057.3,797 2057.8,797.1 2058.3,797.3 2058.8,797.5 2059.3,797.7 2059.8,797.8 2060.3,798 2060.8,798.2 2061.3,798.4 2061.8,798.5 2062.3,798.7 2062.9,798.9 2063.4,799 2063.9,799.2 2064.4,799.4 2064.9,799.5 2065.4,799.7 2065.9,799.9 2066.4,800 2066.9,800.2 2067.4,800.3 2067.9,800.5 2068.4,800.6 2068.9,800.8 2069.4,800.9 2069.9,801.1 2070.5,801.2 2071,801.4 2071.5,801.5 2072,801.7 2072.5,801.8 2073,801.9 2073.5,802.1 2074,802.2 2074.5,802.3 2075,802.5 2075.5,802.6 2076,802.7 2076.5,802.9 2077,803 2077.5,803.1 2078,803.2 2078.6,803.3 2079.1,803.4 2079.6,803.6 2080.1,803.7 2080.6,803.8 2081.1,803.9 2081.6,804 2082.1,804.1 2082.6,804.2 2083.1,804.3 2083.6,804.4 2084.1,804.5 2084.6,804.5 2085.1,804.6 2085.6,804.7 2086.1,804.8 2086.7,804.9 2087.2,804.9 2087.7,805 2088.2,805 2088.7,805.1 2089.2,805.1 2089.7,805.2 2090.2,805.2" fill="none" stroke="#d5303a" stroke-width="2.4" stroke-linejoin="round" marker-start="url(#mR)" marker-mid="url(#mR)" marker-end="url(#mR)" transform="translate(0 -1.5)"/></g>
<use href="#r7" transform="translate(0.3 3)"/>
<polyline points="1685.1,506.5 1685.9,527.1 1686.7,538.6 1687.5,546.8 1688.3,551.9 1689.2,567.1 1690,579.7 1690.8,592.8 1691.7,607.5 1692.2,608.6 1692.7,609.9 1693.2,611.3 1693.7,612.7 1694.2,614 1694.7,615.4 1695.2,616.8 1695.7,618.1 1696.2,619.5 1696.7,620.9 1697.3,622.3 1697.8,623.6 1698.3,625 1698.8,626.2 1699.3,627.1 1699.8,629.1 1700.3,635.6 1700.8,642.1 1701.3,648.7 1701.8,655.2 1702.3,661.7 1702.8,668.3 1703.3,670.9 1703.8,672.5 1704.3,674.1 1704.8,675.7 1705.4,677.3 1705.9,678.8 1706.4,680.4 1706.9,682 1707.4,683.6 1707.9,685.2 1708.4,686.7 1708.9,688 1709.4,689.2 1709.9,690.5 1710.4,691.7 1710.9,693 1711.4,694.3 1711.9,695.5 1712.4,696.8 1713,698 1713.5,699.3 1714,700.5 1714.5,701.8 1715,703 1715.5,704.3 1716,705.6 1716.5,706.8 1717,708.1 1717.5,709.3 1718,710.6 1718.5,711.8 1719,713.1 1719.5,714.3 1720,715.6 1720.5,716.9 1721.1,718.1 1721.6,719.4 1722.1,720.6 1722.6,721.9 1723.1,723.1 1723.6,724.4 1724.1,725.6 1724.6,726.9 1725.1,728.2 1725.6,729.4 1726.1,730.7 1726.6,731.9 1727.1,732.9 1727.6,734 1728.1,735.1 1728.6,736.2 1729.2,737.3 1729.7,738.4 1730.2,739.5 1730.7,740.5 1731.2,741.6 1731.7,742.7 1732.2,743.8 1732.7,744.9 1733.2,746 1733.7,747.1 1734.2,748.2 1734.7,749.2 1735.2,750.3 1735.7,751.4 1736.2,752.5 1736.8,753.6 1737.3,754.7 1737.8,755.8 1738.3,756.8 1738.8,757.9 1739.3,759 1739.8,760.1 1740.3,761.2 1740.8,762.3 1741.3,763.4 1741.8,764.5 1742.3,765.5 1742.8,766.6 1743.3,767.7 1743.8,768.8 1744.3,769.9 1744.9,770.8 1745.4,771.7 1745.9,772.6 1746.4,773.5 1746.9,774.4 1747.4,775.3 1747.9,776.3 1748.4,777.2 1748.9,778.1 1749.4,779 1749.9,779.9 1750.4,780.8 1750.9,781.7 1751.4,782.6 1751.9,783.5 1752.4,784.4 1753,785.3 1753.5,786.2 1754,787.1 1754.5,788 1755,788.9 1755.5,789.8 1756,790.7 1756.5,791.6 1757,792.5 1757.5,793.4 1758,794.3 1758.5,795.2 1759,796.2 1759.5,797.1 1760,798 1760.5,798.9 1761.1,799.8 1761.6,800.7 1762.1,801.6 1762.6,802.5 1763.1,803.4 1763.6,804.3 1764.1,805.2 1764.6,805.2 1765.1,805.2 1765.6,805.2 1766.1,805.2 1766.6,805.2 1767.1,805.2 1767.6,805.2 1768.1,805.2 1768.7,805.2 1769.2,805.2 1769.7,805.2 1770.2,805.2 1770.7,805.2 1771.2,805.2 1771.7,805.2 1772.2,805.2 1772.7,805.2 1773.2,805.2 1773.7,805.2 1774.2,805.2 1774.7,805.2 1775.2,805.2 1775.7,805.2 1776.2,805.2 1776.8,805.2 1777.3,805.2 1777.8,805.2 1778.3,805.2 1778.8,805.2 1779.3,805.2 1779.8,805.2 1780.3,805.2 1780.8,805.2 1781.3,805.2 1781.8,805.2 1782.3,805.2 1782.8,805.2 1783.3,805.2 1783.8,805.2 1784.3,805.2 1784.9,805.2 1785.4,805.2 1785.9,805.2 1786.4,805.2 1786.9,805.2 1787.4,805.2 1787.9,805.2 1788.4,805.2 1788.9,805.2 1789.4,805.2 1789.9,805.2 1790.4,805.2 1790.9,805.2 1791.4,805.2 1791.9,805.2 1792.5,805.2 1793,805.2 1793.5,805.2 1794,805.2 1794.5,805.2 1795,805.2 1795.5,805.2 1796,805.2 1796.5,805.2 1797,805.2 1797.5,805.2 1798,805.2 1798.5,805.2 1799,805.2 1799.5,805.2 1800,805.2 1800.6,805.2 1801.1,805.2 1801.6,805.2 1802.1,805.2 1802.6,805.2 1803.1,805.2 1803.6,805.2 1804.1,805.2 1804.6,805.2 1805.1,805.2 1805.6,805.2 1806.1,805.2 1806.6,805.2 1807.1,805.2 1807.6,805.2 1808.1,805.2 1808.7,805.2 1809.2,805.2 1809.7,805.2 1810.2,805.2 1810.7,805.2 1811.2,805.2 1811.7,805.2 1812.2,805.2 1812.7,805.2 1813.2,805.2 1813.7,805.2 1814.2,805.2 1814.7,805.2 1815.2,805.2 1815.7,805.2 1816.3,805.2 1816.8,805.2 1817.3,805.2 1817.8,805.2 1818.3,805.2 1818.8,805.2 1819.3,805.2 1819.8,805.2 1820.3,805.2 1820.8,805.2 1821.3,805.2 1821.8,805.2 1822.3,805.2 1822.8,805.2 1823.3,805.2 1823.8,805.2 1824.4,805.2 1824.9,805.2 1825.4,805.2 1825.9,805.2 1826.4,805.2 1826.9,805.2 1827.4,805.2 1827.9,805.2 1828.4,805.2 1828.9,805.2 1829.4,805.2 1829.9,805.2 1830.4,805.2 1830.9,805.2 1831.4,805.2 1831.9,805.2 1832.5,805.2 1833,805.2 1833.5,805.2 1834,805.2 1834.5,805.2 1835,805.2 1835.5,805.2 1836,805.2 1836.5,805.2 1837,805.2 1837.5,805.2 1838,805.2 1838.5,805.2 1839,805.2 1839.5,805.2 1840.1,805.2 1840.6,805.2 1841.1,805.2 1841.6,805.2 1842.1,805.2 1842.6,805.2 1843.1,805.2 1843.6,805.2 1844.1,805.2 1844.6,805.2 1845.1,805.2 1845.6,805.2 1846.1,805.2 1846.6,805.2 1847.1,805.2 1847.6,805.2 1848.2,805.2 1848.7,805.2 1849.2,805.2 1849.7,805.2 1850.2,805.2 1850.7,805.2 1851.2,805.2 1851.7,805.2 1852.2,805.2 1852.7,805.2 1853.2,805.2 1853.7,805.2 1854.2,805.2 1854.7,805.2 1855.2,805.2 1855.7,805.2 1856.3,805.2 1856.8,805.2 1857.3,805.2 1857.8,805.2 1858.3,805.2 1858.8,805.2 1859.3,805.2 1859.8,805.2 1860.3,805.2 1860.8,805.2 1861.3,805.2 1861.8,805.2 1862.3,805.2 1862.8,805.2 1863.3,805.2 1863.9,805.2 1864.4,805.2 1864.9,805.2 1865.4,805.2 1865.9,805.2 1866.4,805.2 1866.9,805.2 1867.4,805.2 1867.9,805.2 1868.4,805.2 1868.9,805.2 1869.4,805.2 1869.9,805.2 1870.4,805.2 1870.9,805.2 1871.4,805.2 1872,805.2 1872.5,805.2 1873,805.2 1873.5,805.2 1874,805.2 1874.5,805.2 1875,805.2 1875.5,805.2 1876,805.2 1876.5,805.2 1877,805.2 1877.5,805.2 1878,805.2 1878.5,805.2 1879,805.2 1879.5,805.2 1880.1,805.2 1880.6,805.2 1881.1,805.2 1881.6,805.2 1882.1,805.2 1882.6,805.2 1883.1,805.2 1883.6,805.2 1884.1,805.2 1884.6,805.2 1885.1,805.2 1885.6,805.2 1886.1,805.2 1886.6,805.2 1887.1,805.2 1887.6,805.2 1888.2,805.2 1888.7,805.2 1889.2,805.2 1889.7,805.2 1890.2,805.2 1890.7,805.2 1891.2,805.2 1891.7,805.2 1892.2,805.2 1892.7,805.2 1893.2,805.2 1893.7,805.2 1894.2,805.2 1894.7,805.2 1895.2,805.2 1895.8,805.2 1896.3,805.2 1896.8,805.2 1897.3,805.2 1897.8,805.2 1898.3,805.2 1898.8,805.2 1899.3,805.2 1899.8,805.2 1900.3,805.2 1900.8,805.2 1901.3,805.2 1901.8,805.2 1902.3,805.2 1902.8,805.2 1903.3,805.2 1903.9,805.2 1904.4,805.2 1904.9,805.2 1905.4,805.2 1905.9,805.2 1906.4,805.2 1906.9,805.2 1907.4,805.2 1907.9,805.2 1908.4,805.2 1908.9,805.2 1909.4,805.2 1909.9,805.2 1910.4,805.2 1910.9,805.2 1911.4,805.2 1912,805.2 1912.5,805.2 1913,805.2 1913.5,805.2 1914,805.2 1914.5,805.2 1915,805.2 1915.5,805.2 1916,805.2 1916.5,805.2 1917,805.2 1917.5,805.2 1918,805.2 1918.5,805.2 1919,805.2 1919.6,805.2 1920.1,805.2 1920.6,805.2 1921.1,805.2 1921.6,805.2 1922.1,805.2 1922.6,805.2 1923.1,805.2 1923.6,805.2 1924.1,805.2 1924.6,805.2 1925.1,805.2 1925.6,805.2 1926.1,805.2 1926.6,805.2 1927.1,805.2 1927.7,805.2 1928.2,805.2 1928.7,805.2 1929.2,805.2 1929.7,805.2 1930.2,805.2 1930.7,805.2 1931.2,805.2 1931.7,805.2 1932.2,805.2 1932.7,805.2 1933.2,805.2 1933.7,805.2 1934.2,805.2 1934.7,805.2 1935.2,805.2 1935.8,805.2 1936.3,805.2 1936.8,805.2 1937.3,805.2 1937.8,805.2 1938.3,805.2 1938.8,805.2 1939.3,805.2 1939.8,805.2 1940.3,805.2 1940.8,805.2 1941.3,805.2 1941.8,805.2 1942.3,805.2 1942.8,805.2 1943.4,805.2 1943.9,805.2 1944.4,805.2 1944.9,805.2 1945.4,805.2 1945.9,805.2 1946.4,805.2 1946.9,805.2 1947.4,805.2 1947.9,805.2 1948.4,805.2 1948.9,805.2 1949.4,805.2 1949.9,805.2 1950.4,805.2 1950.9,805.2 1951.5,805.2 1952,805.2 1952.5,805.2 1953,805.2 1953.5,805.2 1954,805.2 1954.5,805.2 1955,805.2 1955.5,805.2 1956,805.2 1956.5,805.2 1957,805.2 1957.5,805.2 1958,805.2 1958.5,805.2 1959,805.2 1959.6,805.2 1960.1,805.2 1960.6,805.2 1961.1,805.2 1961.6,805.2 1962.1,805.2 1962.6,805.2 1963.1,805.2 1963.6,805.2 1964.1,805.2 1964.6,805.2 1965.1,805.2 1965.6,805.2 1966.1,805.2 1966.6,805.2 1967.2,805.2 1967.7,805.2 1968.2,805.2 1968.7,805.2 1969.2,805.2 1969.7,805.2 1970.2,805.2 1970.7,805.2 1971.2,805.2 1971.7,805.2 1972.2,805.2 1972.7,805.2 1973.2,805.2 1973.7,805.2 1974.2,805.2 1974.7,805.2 1975.3,805.2 1975.8,805.2 1976.3,805.2 1976.8,805.2 1977.3,805.2 1977.8,805.2 1978.3,805.2 1978.8,805.2 1979.3,805.2 1979.8,805.2 1980.3,805.2 1980.8,805.2 1981.3,805.2 1981.8,805.2 1982.3,805.2 1982.8,805.2 1983.4,805.2 1983.9,805.2 1984.4,805.2 1984.9,805.2 1985.4,805.2 1985.9,805.2 1986.4,805.2 1986.9,805.2 1987.4,805.2 1987.9,805.2 1988.4,805.2 1988.9,805.2 1989.4,805.2 1989.9,805.2 1990.4,805.2 1991,805.2 1991.5,805.2 1992,805.2 1992.5,805.2 1993,805.2 1993.5,805.2 1994,805.2 1994.5,805.2 1995,805.2 1995.5,805.2 1996,805.2 1996.5,805.2 1997,805.2 1997.5,805.2 1998,805.2 1998.5,805.2 1999.1,805.2 1999.6,805.2 2000.1,805.2 2000.6,805.2 2001.1,805.2 2001.6,805.2 2002.1,805.2 2002.6,805.2 2003.1,805.2 2003.6,805.2 2004.1,805.2 2004.6,805.2 2005.1,805.2 2005.6,805.2 2006.1,805.2 2006.6,805.2 2007.2,805.2 2007.7,805.2 2008.2,805.2 2008.7,805.2 2009.2,805.2 2009.7,805.2 2010.2,805.2 2010.7,805.2 2011.2,805.2 2011.7,805.2 2012.2,805.2 2012.7,805.2 2013.2,805.2 2013.7,805.2 2014.2,805.2 2014.8,805.2 2015.3,805.2 2015.8,805.2 2016.3,805.2 2016.8,805.2 2017.3,805.2 2017.8,805.2 2018.3,805.2 2018.8,805.2 2019.3,805.2 2019.8,805.2 2020.3,805.2 2020.8,805.2 2021.3,805.2 2021.8,805.2 2022.3,805.2 2022.9,805.2 2023.4,805.2 2023.9,805.2 2024.4,805.2 2024.9,805.2 2025.4,805.2 2025.9,805.2 2026.4,805.2 2026.9,805.2 2027.4,805.2 2027.9,805.2 2028.4,805.2 2028.9,805.2 2029.4,805.2 2029.9,805.2 2030.4,805.2 2031,805.2 2031.5,805.2 2032,805.2 2032.5,805.2 2033,805.2 2033.5,805.2 2034,805.2 2034.5,805.2 2035,805.2 2035.5,805.2 2036,805.2 2036.5,805.2 2037,805.2 2037.5,805.2 2038,805.2 2038.5,805.2 2039.1,805.2 2039.6,805.2 2040.1,805.2 2040.6,805.2 2041.1,805.2 2041.6,805.2 2042.1,805.2 2042.6,805.2 2043.1,805.2 2043.6,805.2 2044.1,805.2 2044.6,805.2 2045.1,805.2 2045.6,805.2 2046.1,805.2 2046.7,805.2 2047.2,805.2 2047.7,805.2 2048.2,805.2 2048.7,805.2 2049.2,805.2 2049.7,805.2 2050.2,805.2 2050.7,805.2 2051.2,805.2 2051.7,805.2 2052.2,805.2 2052.7,805.2 2053.2,805.2 2053.7,805.2 2054.2,805.2 2054.8,805.2 2055.3,805.2 2055.8,805.2 2056.3,805.2 2056.8,805.2 2057.3,805.2 2057.8,805.2 2058.3,805.2 2058.8,805.2 2059.3,805.2 2059.8,805.2 2060.3,805.2 2060.8,805.2 2061.3,805.2 2061.8,805.2 2062.3,805.2 2062.9,805.2 2063.4,805.2 2063.9,805.2 2064.4,805.2 2064.9,805.2 2065.4,805.2 2065.9,805.2 2066.4,805.2 2066.9,805.2 2067.4,805.2 2067.9,805.2 2068.4,805.2 2068.9,805.2 2069.4,805.2 2069.9,805.2 2070.5,805.2 2071,805.2 2071.5,805.2 2072,805.2 2072.5,805.2 2073,805.2 2073.5,805.2 2074,805.2 2074.5,805.2 2075,805.2 2075.5,805.2 2076,805.2 2076.5,805.2 2077,805.2 2077.5,805.2 2078,805.2 2078.6,805.2 2079.1,805.2 2079.6,805.2 2080.1,805.2 2080.6,805.2 2081.1,805.2 2081.6,805.2 2082.1,805.2 2082.6,805.2 2083.1,805.2 2083.6,805.2 2084.1,805.2 2084.6,805.2 2085.1,805.2 2085.6,805.2 2086.1,805.2 2086.7,805.2 2087.2,805.2 2087.7,805.2 2088.2,805.2 2088.7,805.2 2089.2,805.2 2089.7,805.2 2090.2,805.2" fill="none" stroke="#1a1a1a" stroke-width="2.4" stroke-linejoin="round" marker-start="url(#mK)" marker-mid="url(#mK)" marker-end="url(#mK)"/>
<polyline points="1685.1,506.5 1685.6,506.9 1686.1,507.2 1686.6,507.6 1687.1,508 1687.6,508.4 1688.1,508.7 1688.6,509.1 1689.2,509.5 1689.7,509.9 1690.2,510.2 1690.7,510.6 1691.2,511 1691.7,511.4 1692.2,511.7 1692.7,512.1 1693.2,512.5 1693.7,512.8 1694.2,513.2 1694.7,513.6 1695.2,514 1695.7,514.3 1696.2,514.7 1696.7,515.1 1697.3,515.5 1697.8,515.8 1698.3,516.2 1698.8,516.6 1699.3,517 1699.8,517.3 1700.3,517.7 1700.8,518.1 1701.3,518.4 1701.8,518.8 1702.3,519.2 1702.8,519.6 1703.3,519.9 1703.8,520.3 1704.3,520.7 1704.8,521.1 1705.4,521.4 1705.9,521.8 1706.4,522.2 1706.9,522.6 1707.4,522.9 1707.9,523.3 1708.4,523.7 1708.9,524 1709.4,524.4 1709.9,524.8 1710.4,525.2 1710.9,525.5 1711.4,525.9 1711.9,526.3 1712.4,526.7 1713,527 1713.5,527.4 1714,527.8 1714.5,528.2 1715,528.5 1715.5,528.9 1716,529.3 1716.5,529.6 1717,530 1717.5,530.4 1718,530.8 1718.5,531.1 1719,531.5 1719.5,531.9 1720,532.3 1720.5,532.6 1721.1,533 1721.6,533.4 1722.1,533.8 1722.6,534.1 1723.1,534.5 1723.6,534.9 1724.1,535.2 1724.6,535.6 1725.1,536 1725.6,536.4 1726.1,536.7 1726.6,537.1 1727.1,537.5 1727.6,537.9 1728.1,538.2 1728.6,538.6 1729.2,539 1729.7,539.4 1730.2,539.7 1730.7,540.1 1731.2,540.5 1731.7,540.9 1732.2,541.2 1732.7,541.6 1733.2,542 1733.7,542.3 1734.2,542.7 1734.7,543.1 1735.2,543.5 1735.7,543.8 1736.2,544.2 1736.8,544.6 1737.3,545 1737.8,545.3 1738.3,545.7 1738.8,546.1 1739.3,546.5 1739.8,546.8 1740.3,547.2 1740.8,547.6 1741.3,547.9 1741.8,548.3 1742.3,548.7 1742.8,549.1 1743.3,549.4 1743.8,549.8 1744.3,550.2 1744.9,550.6 1745.4,550.9 1745.9,551.3 1746.4,551.7 1746.9,552.1 1747.4,552.4 1747.9,552.8 1748.4,553.2 1748.9,553.5 1749.4,553.9 1749.9,554.3 1750.4,554.7 1750.9,555 1751.4,555.4 1751.9,555.8 1752.4,556.2 1753,556.5 1753.5,556.9 1754,557.3 1754.5,557.7 1755,558 1755.5,558.4 1756,558.8 1756.5,559.1 1757,559.5 1757.5,559.9 1758,560.3 1758.5,560.6 1759,561 1759.5,561.4 1760,561.8 1760.5,562.1 1761.1,562.5 1761.6,562.9 1762.1,563.3 1762.6,563.6 1763.1,564 1763.6,564.4 1764.1,564.7 1764.6,565.1 1765.1,565.5 1765.6,565.9 1766.1,566.2 1766.6,566.6 1767.1,567 1767.6,567.4 1768.1,567.7 1768.7,568.1 1769.2,568.5 1769.7,568.9 1770.2,569.2 1770.7,569.6 1771.2,570 1771.7,570.3 1772.2,570.7 1772.7,571.1 1773.2,571.5 1773.7,571.8 1774.2,572.2 1774.7,572.6 1775.2,573 1775.7,573.3 1776.2,573.7 1776.8,574.1 1777.3,574.5 1777.8,574.8 1778.3,575.2 1778.8,575.6 1779.3,575.9 1779.8,576.3 1780.3,576.7 1780.8,577.1 1781.3,577.4 1781.8,577.8 1782.3,578.2 1782.8,578.6 1783.3,578.9 1783.8,579.3 1784.3,579.7 1784.9,580.1 1785.4,580.4 1785.9,580.8 1786.4,581.2 1786.9,581.5 1787.4,581.9 1787.9,582.3 1788.4,582.7 1788.9,583 1789.4,583.4 1789.9,583.8 1790.4,584.2 1790.9,584.5 1791.4,584.9 1791.9,585.3 1792.5,585.7 1793,586 1793.5,586.4 1794,586.8 1794.5,587.1 1795,587.5 1795.5,587.9 1796,588.3 1796.5,588.6 1797,589 1797.5,589.4 1798,589.8 1798.5,590.1 1799,590.5 1799.5,590.9 1800,591.3 1800.6,591.6 1801.1,592 1801.6,592.4 1802.1,592.7 1802.6,593.1 1803.1,593.5 1803.6,593.9 1804.1,594.2 1804.6,594.6 1805.1,595 1805.6,595.4 1806.1,595.7 1806.6,596.1 1807.1,596.5 1807.6,596.9 1808.1,597.2 1808.7,597.6 1809.2,598 1809.7,598.4 1810.2,598.7 1810.7,599.1 1811.2,599.5 1811.7,599.8 1812.2,600.2 1812.7,600.6 1813.2,601 1813.7,601.3 1814.2,601.7 1814.7,602.1 1815.2,602.5 1815.7,602.8 1816.3,603.2 1816.8,603.6 1817.3,604 1817.8,604.3 1818.3,604.7 1818.8,605.1 1819.3,605.4 1819.8,605.8 1820.3,606.2 1820.8,606.6 1821.3,606.9 1821.8,607.3 1822.3,607.7 1822.8,608.1 1823.3,608.4 1823.8,608.8 1824.4,609.2 1824.9,609.6 1825.4,609.9 1825.9,610.3 1826.4,610.7 1826.9,611 1827.4,611.4 1827.9,611.8 1828.4,612.2 1828.9,612.5 1829.4,612.9 1829.9,613.3 1830.4,613.7 1830.9,614 1831.4,614.4 1831.9,614.8 1832.5,615.2 1833,615.5 1833.5,615.9 1834,616.3 1834.5,616.6 1835,617 1835.5,617.4 1836,617.8 1836.5,618.1 1837,618.5 1837.5,618.9 1838,619.3 1838.5,619.6 1839,620 1839.5,620.4 1840.1,620.8 1840.6,621.1 1841.1,621.5 1841.6,621.9 1842.1,622.2 1842.6,622.6 1843.1,623 1843.6,623.4 1844.1,623.7 1844.6,624.1 1845.1,624.5 1845.6,624.9 1846.1,625.2 1846.6,625.6 1847.1,626 1847.6,626.4 1848.2,626.7 1848.7,627.1 1849.2,627.5 1849.7,627.8 1850.2,628.2 1850.7,628.6 1851.2,629 1851.7,629.3 1852.2,629.7 1852.7,630.1 1853.2,630.5 1853.7,630.8 1854.2,631.2 1854.7,631.6 1855.2,632 1855.7,632.3 1856.3,632.7 1856.8,633.1 1857.3,633.4 1857.8,633.8 1858.3,634.2 1858.8,634.6 1859.3,634.9 1859.8,635.3 1860.3,635.7 1860.8,636.1 1861.3,636.4 1861.8,636.8 1862.3,637.2 1862.8,637.6 1863.3,637.9 1863.9,638.3 1864.4,638.7 1864.9,639 1865.4,639.4 1865.9,639.8 1866.4,640.2 1866.9,640.5 1867.4,640.9 1867.9,641.3 1868.4,641.7 1868.9,642 1869.4,642.4 1869.9,642.8 1870.4,643.2 1870.9,643.5 1871.4,643.9 1872,644.3 1872.5,644.6 1873,645 1873.5,645.4 1874,645.8 1874.5,646.1 1875,646.5 1875.5,646.9 1876,647.3 1876.5,647.6 1877,648 1877.5,648.4 1878,648.8 1878.5,649.1 1879,649.5 1879.5,649.9 1880.1,650.2 1880.6,650.6 1881.1,651 1881.6,651.4 1882.1,651.7 1882.6,652.1 1883.1,652.5 1883.6,652.9 1884.1,653.2 1884.6,653.6 1885.1,654 1885.6,654.4 1886.1,654.7 1886.6,655.1 1887.1,655.5 1887.6,655.9 1888.2,656.2 1888.7,656.6 1889.2,657 1889.7,657.3 1890.2,657.7 1890.7,658.1 1891.2,658.5 1891.7,658.8 1892.2,659.2 1892.7,659.6 1893.2,660 1893.7,660.3 1894.2,660.7 1894.7,661.1 1895.2,661.5 1895.8,661.8 1896.3,662.2 1896.8,662.6 1897.3,662.9 1897.8,663.3 1898.3,663.7 1898.8,664.1 1899.3,664.4 1899.8,664.8 1900.3,665.2 1900.8,665.6 1901.3,665.9 1901.8,666.3 1902.3,666.7 1902.8,667.1 1903.3,667.4 1903.9,667.8 1904.4,668.2 1904.9,668.5 1905.4,668.9 1905.9,669.3 1906.4,669.7 1906.9,670 1907.4,670.4 1907.9,670.8 1908.4,671.2 1908.9,671.5 1909.4,671.9 1909.9,672.3 1910.4,672.7 1910.9,673 1911.4,673.4 1912,673.8 1912.5,674.1 1913,674.5 1913.5,674.9 1914,675.3 1914.5,675.6 1915,676 1915.5,676.4 1916,676.8 1916.5,677.1 1917,677.5 1917.5,677.9 1918,678.3 1918.5,678.6 1919,679 1919.6,679.4 1920.1,679.7 1920.6,680.1 1921.1,680.5 1921.6,680.9 1922.1,681.2 1922.6,681.6 1923.1,682 1923.6,682.4 1924.1,682.7 1924.6,683.1 1925.1,683.5 1925.6,683.9 1926.1,684.2 1926.6,684.6 1927.1,685 1927.7,685.3 1928.2,685.7 1928.7,686.1 1929.2,686.5 1929.7,686.8 1930.2,687.2 1930.7,687.6 1931.2,688 1931.7,688.3 1932.2,688.7 1932.7,689.1 1933.2,689.5 1933.7,689.8 1934.2,690.2 1934.7,690.6 1935.2,690.9 1935.8,691.3 1936.3,691.7 1936.8,692.1 1937.3,692.4 1937.8,692.8 1938.3,693.2 1938.8,693.6 1939.3,693.9 1939.8,694.3 1940.3,694.7 1940.8,695.1 1941.3,695.4 1941.8,695.8 1942.3,696.2 1942.8,696.5 1943.4,696.9 1943.9,697.3 1944.4,697.7 1944.9,698 1945.4,698.4 1945.9,698.8 1946.4,699.2 1946.9,699.5 1947.4,699.9 1947.9,700.3 1948.4,700.7 1948.9,701 1949.4,701.4 1949.9,701.8 1950.4,702.1 1950.9,702.5 1951.5,702.9 1952,703.3 1952.5,703.6 1953,704 1953.5,704.4 1954,704.8 1954.5,705.1 1955,705.5 1955.5,705.9 1956,706.3 1956.5,706.6 1957,707 1957.5,707.4 1958,707.7 1958.5,708.1 1959,708.5 1959.6,708.9 1960.1,709.2 1960.6,709.6 1961.1,710 1961.6,710.4 1962.1,710.7 1962.6,711.1 1963.1,711.5 1963.6,711.9 1964.1,712.2 1964.6,712.6 1965.1,713 1965.6,713.3 1966.1,713.7 1966.6,714.1 1967.2,714.5 1967.7,714.8 1968.2,715.2 1968.7,715.6 1969.2,716 1969.7,716.3 1970.2,716.7 1970.7,717.1 1971.2,717.5 1971.7,717.8 1972.2,718.2 1972.7,718.6 1973.2,719 1973.7,719.3 1974.2,719.7 1974.7,720.1 1975.3,720.4 1975.8,720.8 1976.3,721.2 1976.8,721.6 1977.3,721.9 1977.8,722.3 1978.3,722.7 1978.8,723.1 1979.3,723.4 1979.8,723.8 1980.3,724.2 1980.8,724.6 1981.3,724.9 1981.8,725.3 1982.3,725.7 1982.8,726 1983.4,726.4 1983.9,726.8 1984.4,727.2 1984.9,727.5 1985.4,727.9 1985.9,728.3 1986.4,728.7 1986.9,729 1987.4,729.4 1987.9,729.8 1988.4,730.2 1988.9,730.5 1989.4,730.9 1989.9,731.3 1990.4,731.6 1991,732 1991.5,732.4 1992,732.8 1992.5,733.1 1993,733.5 1993.5,733.9 1994,734.3 1994.5,734.6 1995,735 1995.5,735.4 1996,735.8 1996.5,736.1 1997,736.5 1997.5,736.9 1998,737.2 1998.5,737.6 1999.1,738 1999.6,738.4 2000.1,738.7 2000.6,739.1 2001.1,739.5 2001.6,739.9 2002.1,740.2 2002.6,740.6 2003.1,741 2003.6,741.4 2004.1,741.7 2004.6,742.1 2005.1,742.5 2005.6,742.8 2006.1,743.2 2006.6,743.6 2007.2,744 2007.7,744.3 2008.2,744.7 2008.7,745.1 2009.2,745.5 2009.7,745.8 2010.2,746.2 2010.7,746.6 2011.2,747 2011.7,747.3 2012.2,747.7 2012.7,748.1 2013.2,748.4 2013.7,748.8 2014.2,749.2 2014.8,749.6 2015.3,749.9 2015.8,750.3 2016.3,750.7 2016.8,751.1 2017.3,751.4 2017.8,751.8 2018.3,752.2 2018.8,752.6 2019.3,752.9 2019.8,753.3 2020.3,753.7 2020.8,754 2021.3,754.4 2021.8,754.8 2022.3,755.2 2022.9,755.5 2023.4,755.9 2023.9,756.3 2024.4,756.7 2024.9,757 2025.4,757.4 2025.9,757.8 2026.4,758.2 2026.9,758.5 2027.4,758.9 2027.9,759.3 2028.4,759.6 2028.9,760 2029.4,760.4 2029.9,760.8 2030.4,761.1 2031,761.5 2031.5,761.9 2032,762.3 2032.5,762.6 2033,763 2033.5,763.4 2034,763.8 2034.5,764.1 2035,764.5 2035.5,764.9 2036,765.2 2036.5,765.6 2037,766 2037.5,766.4 2038,766.7 2038.5,767.1 2039.1,767.5 2039.6,767.9 2040.1,768.2 2040.6,768.6 2041.1,769 2041.6,769.4 2042.1,769.7 2042.6,770.1 2043.1,770.5 2043.6,770.8 2044.1,771.2 2044.6,771.6 2045.1,772 2045.6,772.3 2046.1,772.7 2046.7,773.1 2047.2,773.5 2047.7,773.8 2048.2,774.2 2048.7,774.6 2049.2,775 2049.7,775.3 2050.2,775.7 2050.7,776.1 2051.2,776.5 2051.7,776.8 2052.2,777.2 2052.7,777.6 2053.2,777.9 2053.7,778.3 2054.2,778.7 2054.8,779.1 2055.3,779.4 2055.8,779.8 2056.3,780.2 2056.8,780.6 2057.3,780.9 2057.8,781.3 2058.3,781.7 2058.8,782.1 2059.3,782.4 2059.8,782.8 2060.3,783.2 2060.8,783.5 2061.3,783.9 2061.8,784.3 2062.3,784.7 2062.9,785 2063.4,785.4 2063.9,785.8 2064.4,786.2 2064.9,786.5 2065.4,786.9 2065.9,787.3 2066.4,787.7 2066.9,788 2067.4,788.4 2067.9,788.8 2068.4,789.1 2068.9,789.5 2069.4,789.9 2069.9,790.3 2070.5,790.6 2071,791 2071.5,791.4 2072,791.8 2072.5,792.1 2073,792.5 2073.5,792.9 2074,793.3 2074.5,793.6 2075,794 2075.5,794.4 2076,794.7 2076.5,795.1 2077,795.5 2077.5,795.9 2078,796.2 2078.6,796.6 2079.1,797 2079.6,797.4 2080.1,797.7 2080.6,798.1 2081.1,798.5 2081.6,798.9 2082.1,799.2 2082.6,799.6 2083.1,800 2083.6,800.3 2084.1,800.7 2084.6,801.1 2085.1,801.5 2085.6,801.8 2086.1,802.2 2086.7,802.6 2087.2,803 2087.7,803.3 2088.2,803.7 2088.7,804.1 2089.2,804.5 2089.7,804.8 2090.2,805.2" fill="none" stroke="#4860ad" stroke-width="2.4" stroke-linejoin="round" marker-start="url(#mB)" marker-mid="url(#mB)" marker-end="url(#mB)"/>
<rect x="1871.7" y="519.3" width="206.3" height="94.2" fill="#fff" stroke="#363636" stroke-width="1.5"/>
<path d="M1879.1 536.3H1916.5" stroke="#d5303a" stroke-width="2.5"/>
<use href="#st" x="1897.2" y="536.3" fill="none" stroke="#d5303a" stroke-width="2.5"/>
<text class="lg" x="1920.3" y="544.8">random</text>
<path d="M1879.1 566.1H1916.5" stroke="#1a1a1a" stroke-width="2.5"/>
<use href="#tv" x="1897.2" y="566.1" fill="none" stroke="#1a1a1a" stroke-width="2.6"/>
<text class="lg" x="1920.3" y="574.8">target-max-min</text>
<path d="M1879.1 595.9H1916.5" stroke="#4860ad" stroke-width="2.5"/>
<use href="#tv" x="1897.2" y="595.9" fill="none" stroke="#4860ad" stroke-width="2.6"/>
<text class="lg" x="1920.3" y="604.8">target-min-max</text>
<text class="cp" x="1880.8" y="918.8" text-anchor="middle">(h) Norwood</text>
</g>
</svg>
</body></html>
